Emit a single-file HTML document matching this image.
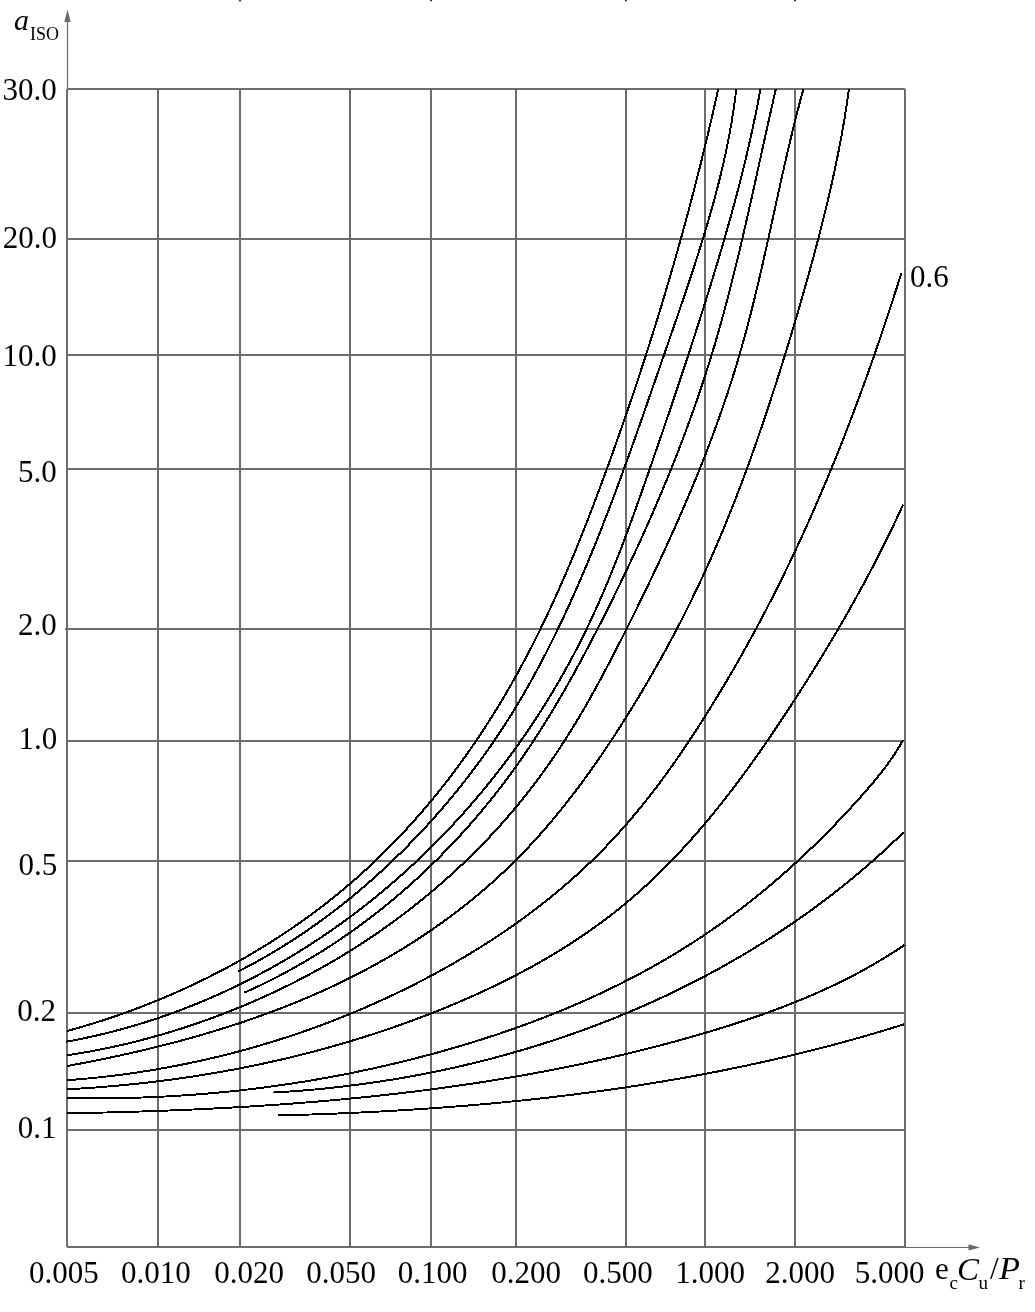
<!DOCTYPE html>
<html><head><meta charset="utf-8"><style>
html,body{margin:0;padding:0;background:#fff;width:1035px;height:1312px;overflow:hidden}
svg{display:block;will-change:transform}
text{font-family:"Liberation Serif",serif}
</style></head><body>
<svg width="1035" height="1312" viewBox="0 0 1035 1312">
<rect width="1035" height="1312" fill="#fff"/>
<path d="M67 89 V1247 M158 89 V1247 M240 89 V1247 M350 89 V1247 M431 89 V1247 M516 89 V1247 M626 89 V1247 M705 89 V1247 M795 89 V1247 M905 89 V1247 M67 89 H905 M67 239 H905 M67 355 H905 M67 469 H905 M67 629 H905 M67 741 H905 M67 861 H905 M67 1013 H905 M67 1130 H905 M67 1247 H905" stroke="#6d6d6d" stroke-width="2" fill="none"/>
<path d="M67.5 89 V20 M905 1247.5 H970" stroke="#6a6a6a" stroke-width="1.2" fill="none"/>
<path d="M64.3 22 L67.5 9.5 L70.7 22 Z" fill="#6a6a6a"/>
<path d="M968.5 1244.2 L980 1247.4 L968.5 1250.6 Z" fill="#6a6a6a"/>
<rect x="65" y="628" width="2" height="2" fill="#6d6d6d"/>
<rect x="239" y="0" width="2" height="1.3" fill="#333"/>
<rect x="430" y="0" width="2" height="1.3" fill="#333"/>
<rect x="625" y="0" width="2" height="1.3" fill="#333"/>
<rect x="794" y="0" width="2" height="1.3" fill="#333"/>
<path d="M67.38 1031.94 L70.27 1031.16 L73.15 1030.36 L76.03 1029.55 L78.91 1028.73 L81.79 1027.90 L84.67 1027.06 L87.54 1026.20 L90.41 1025.34 L93.28 1024.46 L96.15 1023.57 L99.01 1022.67 L101.87 1021.75 L104.73 1020.83 L107.59 1019.89 L110.44 1018.94 L113.30 1017.98 L116.15 1017.01 L118.99 1016.03 L121.83 1015.03 L124.67 1014.03 L127.51 1013.01 L130.35 1011.98 L133.18 1010.94 L136.00 1009.89 L138.83 1008.83 L141.65 1007.75 L144.46 1006.67 L147.28 1005.57 L150.09 1004.46 L152.89 1003.34 L155.69 1002.21 L158.49 1001.06 L161.28 999.91 L164.07 998.74 L166.86 997.57 L169.64 996.38 L172.42 995.18 L175.19 993.97 L177.96 992.74 L180.72 991.51 L183.48 990.26 L186.24 989.01 L188.99 987.74 L191.73 986.46 L194.47 985.17 L197.21 983.87 L199.93 982.56 L202.66 981.24 L205.38 979.90 L208.09 978.55 L210.80 977.20 L213.51 975.83 L216.20 974.45 L218.90 973.06 L221.58 971.66 L224.26 970.25 L226.94 968.82 L229.61 967.39 L232.27 965.94 L234.93 964.49 L237.58 963.02 L240.22 961.54 L242.86 960.05 L245.49 958.55 L248.12 957.04 L250.74 955.51 L253.35 953.98 L255.96 952.43 L258.56 950.88 L261.15 949.31 L263.74 947.74 L266.32 946.15 L268.89 944.55 L271.45 942.94 L274.01 941.32 L276.56 939.68 L279.10 938.04 L281.64 936.39 L284.17 934.72 L286.69 933.05 L289.20 931.36 L291.71 929.67 L294.20 927.96 L296.69 926.24 L299.17 924.51 L301.65 922.77 L304.11 921.02 L306.57 919.26 L309.02 917.49 L311.46 915.71 L313.89 913.91 L316.32 912.11 L318.73 910.29 L321.14 908.47 L323.54 906.63 L325.93 904.79 L328.31 902.93 L330.68 901.06 L333.05 899.18 L335.40 897.30 L337.74 895.40 L340.08 893.49 L342.41 891.57 L344.72 889.64 L347.03 887.69 L349.33 885.74 L351.62 883.78 L353.90 881.81 L356.16 879.82 L358.42 877.83 L360.67 875.83 L362.91 873.81 L365.14 871.79 L367.37 869.76 L369.58 867.71 L371.78 865.66 L373.97 863.59 L376.15 861.52 L378.33 859.44 L380.49 857.34 L382.65 855.24 L384.79 853.13 L386.93 851.01 L389.05 848.88 L391.17 846.74 L393.27 844.59 L395.37 842.43 L397.46 840.26 L399.54 838.08 L401.60 835.90 L403.66 833.70 L405.71 831.50 L407.75 829.29 L409.79 827.07 L411.81 824.84 L413.82 822.60 L415.82 820.35 L417.82 818.10 L419.80 815.83 L421.77 813.56 L423.74 811.28 L425.70 808.99 L427.64 806.69 L429.58 804.39 L431.51 802.08 L433.43 799.75 L435.34 797.43 L437.24 795.09 L439.13 792.74 L441.01 790.39 L442.88 788.03 L444.74 785.66 L446.60 783.29 L448.44 780.91 L450.28 778.52 L452.10 776.12 L453.92 773.72 L455.73 771.31 L457.53 768.89 L459.32 766.46 L461.10 764.03 L462.87 761.59 L464.63 759.14 L466.38 756.69 L468.13 754.23 L469.86 751.76 L471.59 749.29 L473.31 746.81 L475.01 744.32 L476.71 741.83 L478.40 739.33 L480.08 736.83 L481.75 734.32 L483.41 731.80 L485.07 729.28 L486.71 726.75 L488.35 724.21 L489.97 721.67 L491.59 719.12 L493.20 716.57 L494.80 714.01 L496.39 711.45 L497.97 708.88 L499.54 706.30 L501.10 703.72 L502.66 701.13 L504.20 698.54 L505.74 695.95 L507.27 693.35 L508.79 690.74 L510.30 688.13 L511.80 685.51 L513.29 682.89 L514.77 680.26 L516.25 677.63 L517.71 674.99 L519.17 672.35 L520.62 669.71 L522.06 667.06 L523.49 664.40 L524.91 661.74 L526.33 659.08 L527.73 656.41 L529.13 653.74 L530.52 651.07 L531.90 648.39 L533.27 645.70 L534.64 643.01 L536.00 640.32 L537.35 637.63 L538.69 634.93 L540.03 632.22 L541.35 629.51 L542.67 626.80 L543.99 624.09 L545.29 621.37 L546.59 618.65 L547.88 615.92 L549.17 613.19 L550.44 610.46 L551.71 607.72 L552.98 604.98 L554.24 602.24 L555.49 599.50 L556.73 596.75 L557.97 594.00 L559.20 591.24 L560.43 588.48 L561.64 585.72 L562.86 582.96 L564.06 580.19 L565.27 577.42 L566.46 574.65 L567.65 571.88 L568.83 569.10 L570.01 566.32 L571.19 563.54 L572.35 560.75 L573.51 557.96 L574.67 555.17 L575.82 552.38 L576.97 549.59 L578.11 546.79 L579.25 543.99 L580.38 541.19 L581.50 538.39 L582.63 535.59 L583.74 532.78 L584.86 529.97 L585.96 527.16 L587.07 524.35 L588.17 521.54 L589.26 518.72 L590.35 515.90 L591.44 513.09 L592.52 510.27 L593.60 507.45 L594.68 504.62 L595.75 501.80 L596.82 498.97 L597.88 496.15 L598.94 493.32 L600.00 490.49 L601.05 487.66 L602.11 484.83 L603.15 482.00 L604.20 479.17 L605.24 476.33 L606.28 473.50 L607.31 470.66 L608.35 467.83 L609.38 464.99 L610.40 462.15 L611.43 459.32 L612.45 456.48 L613.47 453.64 L614.49 450.80 L615.50 447.96 L616.51 445.12 L617.52 442.28 L618.53 439.43 L619.53 436.59 L620.53 433.74 L621.53 430.90 L622.52 428.05 L623.51 425.21 L624.50 422.36 L625.49 419.51 L626.47 416.66 L627.46 413.81 L628.43 410.96 L629.41 408.11 L630.38 405.26 L631.35 402.41 L632.32 399.55 L633.28 396.70 L634.25 393.84 L635.20 390.99 L636.16 388.13 L637.11 385.27 L638.07 382.42 L639.01 379.56 L639.96 376.70 L640.90 373.84 L641.84 370.97 L642.78 368.11 L643.71 365.25 L644.64 362.38 L645.57 359.52 L646.50 356.65 L647.42 353.79 L648.34 350.92 L649.26 348.05 L650.17 345.18 L651.09 342.31 L652.00 339.44 L652.90 336.57 L653.81 333.69 L654.71 330.82 L655.60 327.94 L656.50 325.07 L657.39 322.19 L658.28 319.32 L659.17 316.44 L660.05 313.56 L660.93 310.68 L661.81 307.80 L662.69 304.92 L663.56 302.03 L664.43 299.15 L665.30 296.27 L666.16 293.38 L667.02 290.50 L667.88 287.61 L668.73 284.72 L669.59 281.83 L670.44 278.94 L671.28 276.05 L672.13 273.16 L672.97 270.27 L673.80 267.38 L674.64 264.48 L675.47 261.59 L676.30 258.69 L677.13 255.80 L677.95 252.90 L678.77 250.00 L679.59 247.10 L680.40 244.20 L681.21 241.30 L682.02 238.40 L682.83 235.50 L683.63 232.59 L684.43 229.69 L685.23 226.78 L686.02 223.88 L686.81 220.97 L687.60 218.06 L688.38 215.15 L689.16 212.24 L689.94 209.33 L690.72 206.42 L691.49 203.51 L692.26 200.60 L693.03 197.68 L693.79 194.77 L694.55 191.85 L695.31 188.93 L696.06 186.02 L696.81 183.10 L697.56 180.18 L698.31 177.26 L699.05 174.34 L699.79 171.41 L700.52 168.49 L701.26 165.57 L701.99 162.64 L702.71 159.72 L703.43 156.79 L704.16 153.86 L704.87 150.94 L705.59 148.01 L706.30 145.08 L707.01 142.14 L707.71 139.21 L708.41 136.28 L709.11 133.35 L709.81 130.41 L710.50 127.48 L711.19 124.54 L711.87 121.60 L712.55 118.66 L713.23 115.73 L713.91 112.79 L714.58 109.84 L715.25 106.90 L715.92 103.96 L716.58 101.02 L717.24 98.07 L717.90 95.13 L718.56 92.18 L719.21 89.23 L717.25 88.80 L716.60 91.75 L715.94 94.69 L715.29 97.63 L714.63 100.58 L713.96 103.52 L713.30 106.46 L712.63 109.40 L711.95 112.34 L711.28 115.27 L710.60 118.21 L709.91 121.15 L709.23 124.08 L708.54 127.02 L707.85 129.95 L707.15 132.88 L706.45 135.81 L705.75 138.74 L705.05 141.67 L704.34 144.60 L703.63 147.53 L702.92 150.46 L702.20 153.38 L701.48 156.31 L700.75 159.23 L700.03 162.16 L699.30 165.08 L698.57 168.00 L697.83 170.92 L697.09 173.84 L696.35 176.76 L695.60 179.68 L694.86 182.60 L694.11 185.51 L693.35 188.43 L692.59 191.34 L691.83 194.26 L691.07 197.17 L690.30 200.08 L689.54 202.99 L688.76 205.90 L687.99 208.81 L687.21 211.72 L686.43 214.63 L685.64 217.53 L684.86 220.44 L684.07 223.34 L683.27 226.25 L682.48 229.15 L681.68 232.05 L680.87 234.95 L680.07 237.86 L679.26 240.76 L678.45 243.65 L677.64 246.55 L676.82 249.45 L676.00 252.34 L675.18 255.24 L674.35 258.13 L673.52 261.03 L672.69 263.92 L671.85 266.81 L671.02 269.70 L670.18 272.59 L669.33 275.48 L668.49 278.37 L667.64 281.26 L666.78 284.14 L665.93 287.03 L665.07 289.91 L664.21 292.80 L663.35 295.68 L662.48 298.56 L661.61 301.45 L660.74 304.33 L659.86 307.21 L658.99 310.08 L658.10 312.96 L657.22 315.84 L656.33 318.71 L655.44 321.59 L654.55 324.46 L653.66 327.34 L652.76 330.21 L651.86 333.08 L650.96 335.95 L650.05 338.82 L649.14 341.69 L648.23 344.56 L647.31 347.43 L646.40 350.29 L645.48 353.16 L644.55 356.03 L643.63 358.89 L642.70 361.75 L641.77 364.61 L640.84 367.48 L639.90 370.34 L638.96 373.20 L638.02 376.06 L637.07 378.91 L636.12 381.77 L635.17 384.63 L634.22 387.48 L633.26 390.34 L632.31 393.19 L631.34 396.04 L630.38 398.90 L629.41 401.75 L628.44 404.60 L627.47 407.45 L626.50 410.30 L625.52 413.15 L624.54 415.99 L623.55 418.84 L622.57 421.69 L621.58 424.53 L620.59 427.38 L619.59 430.22 L618.59 433.07 L617.60 435.91 L616.59 438.75 L615.59 441.59 L614.58 444.43 L613.57 447.27 L612.55 450.11 L611.54 452.95 L610.52 455.78 L609.50 458.62 L608.47 461.46 L607.45 464.29 L606.42 467.13 L605.38 469.96 L604.35 472.79 L603.31 475.62 L602.27 478.46 L601.22 481.29 L600.18 484.12 L599.13 486.94 L598.07 489.77 L597.02 492.60 L595.96 495.42 L594.89 498.25 L593.82 501.07 L592.75 503.89 L591.68 506.71 L590.60 509.53 L589.52 512.35 L588.43 515.16 L587.34 517.97 L586.25 520.79 L585.15 523.60 L584.04 526.41 L582.94 529.21 L581.82 532.02 L580.71 534.82 L579.59 537.62 L578.46 540.42 L577.33 543.22 L576.20 546.01 L575.05 548.80 L573.91 551.60 L572.76 554.38 L571.60 557.17 L570.44 559.95 L569.28 562.73 L568.11 565.51 L566.93 568.29 L565.75 571.06 L564.56 573.83 L563.36 576.60 L562.16 579.36 L560.96 582.13 L559.75 584.89 L558.53 587.64 L557.30 590.40 L556.07 593.15 L554.84 595.89 L553.59 598.64 L552.35 601.38 L551.09 604.12 L549.83 606.85 L548.56 609.58 L547.28 612.31 L546.00 615.03 L544.71 617.75 L543.41 620.47 L542.11 623.18 L540.80 625.89 L539.48 628.60 L538.15 631.30 L536.82 634.00 L535.48 636.69 L534.13 639.38 L532.78 642.07 L531.41 644.75 L530.04 647.43 L528.66 650.11 L527.27 652.78 L525.88 655.44 L524.48 658.10 L523.06 660.76 L521.64 663.41 L520.21 666.06 L518.78 668.70 L517.33 671.34 L515.88 673.98 L514.42 676.61 L512.94 679.23 L511.46 681.85 L509.97 684.47 L508.48 687.08 L506.97 689.68 L505.45 692.28 L503.93 694.88 L502.39 697.47 L500.85 700.05 L499.30 702.63 L497.74 705.21 L496.17 707.78 L494.59 710.34 L493.01 712.90 L491.41 715.45 L489.81 717.99 L488.19 720.54 L486.57 723.07 L484.94 725.60 L483.30 728.12 L481.65 730.64 L479.99 733.15 L478.32 735.65 L476.65 738.15 L474.96 740.64 L473.27 743.13 L471.56 745.61 L469.85 748.08 L468.13 750.55 L466.40 753.01 L464.66 755.46 L462.91 757.91 L461.15 760.35 L459.39 762.78 L457.61 765.21 L455.83 767.62 L454.03 770.04 L452.23 772.44 L450.42 774.84 L448.59 777.23 L446.76 779.61 L444.92 781.99 L443.07 784.36 L441.22 786.72 L439.35 789.07 L437.47 791.41 L435.59 793.75 L433.69 796.08 L431.79 798.40 L429.87 800.72 L427.95 803.02 L426.02 805.32 L424.08 807.61 L422.13 809.89 L420.17 812.17 L418.20 814.43 L416.22 816.69 L414.23 818.94 L412.23 821.18 L410.23 823.41 L408.21 825.63 L406.19 827.85 L404.15 830.05 L402.11 832.25 L400.06 834.44 L397.99 836.62 L395.92 838.79 L393.84 840.95 L391.75 843.10 L389.65 845.24 L387.54 847.38 L385.42 849.50 L383.29 851.62 L381.16 853.72 L379.01 855.82 L376.85 857.90 L374.69 859.98 L372.51 862.05 L370.32 864.11 L368.13 866.15 L365.93 868.19 L363.71 870.22 L361.49 872.23 L359.26 874.24 L357.01 876.24 L354.76 878.23 L352.50 880.20 L350.23 882.17 L347.95 884.13 L345.66 886.07 L343.36 888.01 L341.05 889.93 L338.73 891.85 L336.40 893.75 L334.07 895.64 L331.72 897.53 L329.37 899.40 L327.00 901.26 L324.63 903.11 L322.25 904.95 L319.86 906.78 L317.46 908.60 L315.05 910.41 L312.63 912.21 L310.21 914.00 L307.78 915.78 L305.33 917.54 L302.88 919.30 L300.43 921.04 L297.96 922.78 L295.49 924.50 L293.01 926.22 L290.52 927.92 L288.02 929.61 L285.51 931.29 L283.00 932.96 L280.48 934.62 L277.95 936.27 L275.42 937.91 L272.88 939.54 L270.33 941.15 L267.77 942.76 L265.21 944.36 L262.64 945.94 L260.06 947.51 L257.47 949.08 L254.88 950.63 L252.28 952.17 L249.68 953.70 L247.07 955.22 L244.45 956.73 L241.83 958.22 L239.20 959.71 L236.56 961.18 L233.92 962.65 L231.27 964.10 L228.61 965.54 L225.95 966.98 L223.28 968.40 L220.61 969.81 L217.93 971.20 L215.25 972.59 L212.56 973.97 L209.86 975.33 L207.16 976.69 L204.46 978.03 L201.74 979.36 L199.03 980.68 L196.31 981.99 L193.58 983.29 L190.85 984.58 L188.11 985.85 L185.37 987.12 L182.62 988.37 L179.87 989.61 L177.12 990.85 L174.36 992.07 L171.59 993.28 L168.82 994.47 L166.05 995.66 L163.27 996.83 L160.49 998.00 L157.70 999.15 L154.91 1000.29 L152.12 1001.42 L149.32 1002.54 L146.52 1003.65 L143.72 1004.74 L140.91 1005.83 L138.10 1006.90 L135.28 1007.96 L132.46 1009.01 L129.64 1010.05 L126.81 1011.08 L123.98 1012.09 L121.15 1013.10 L118.32 1014.09 L115.48 1015.07 L112.64 1016.04 L109.80 1017.00 L106.95 1017.95 L104.10 1018.88 L101.25 1019.81 L98.39 1020.72 L95.54 1021.62 L92.68 1022.51 L89.82 1023.39 L86.95 1024.25 L84.09 1025.11 L81.22 1025.95 L78.35 1026.78 L75.48 1027.60 L72.61 1028.41 L69.73 1029.21 L66.86 1029.99Z M238.81 972.28 L241.50 970.92 L244.19 969.54 L246.87 968.14 L249.54 966.73 L252.21 965.31 L254.86 963.87 L257.51 962.42 L260.15 960.96 L262.79 959.48 L265.41 957.99 L268.03 956.48 L270.64 954.96 L273.24 953.43 L275.84 951.88 L278.42 950.32 L281.00 948.75 L283.57 947.17 L286.13 945.57 L288.69 943.96 L291.24 942.33 L293.78 940.70 L296.31 939.05 L298.83 937.39 L301.35 935.71 L303.86 934.02 L306.36 932.33 L308.85 930.62 L311.33 928.89 L313.81 927.16 L316.28 925.41 L318.74 923.65 L321.19 921.88 L323.63 920.10 L326.07 918.31 L328.49 916.50 L330.91 914.69 L333.33 912.86 L335.73 911.02 L338.12 909.17 L340.51 907.31 L342.89 905.44 L345.26 903.56 L347.62 901.67 L349.97 899.76 L352.32 897.85 L354.66 895.92 L356.99 893.99 L359.31 892.04 L361.62 890.09 L363.92 888.12 L366.22 886.15 L368.51 884.16 L370.78 882.17 L373.06 880.16 L375.32 878.15 L377.57 876.12 L379.82 874.09 L382.05 872.04 L384.28 869.99 L386.50 867.93 L388.71 865.86 L390.91 863.78 L393.11 861.69 L395.29 859.59 L397.47 857.49 L399.64 855.37 L401.80 853.25 L403.95 851.11 L406.09 848.97 L408.23 846.82 L410.35 844.66 L412.47 842.50 L414.57 840.32 L416.67 838.14 L418.76 835.95 L420.84 833.75 L422.91 831.54 L424.97 829.32 L427.03 827.10 L429.07 824.86 L431.10 822.62 L433.13 820.37 L435.14 818.12 L437.15 815.85 L439.15 813.58 L441.14 811.30 L443.12 809.02 L445.09 806.72 L447.04 804.42 L449.00 802.11 L450.94 799.79 L452.87 797.47 L454.79 795.13 L456.70 792.79 L458.61 790.45 L460.50 788.09 L462.38 785.73 L464.26 783.36 L466.12 780.98 L467.98 778.60 L469.82 776.21 L471.66 773.81 L473.48 771.41 L475.30 769.00 L477.11 766.58 L478.90 764.15 L480.69 761.72 L482.47 759.28 L484.23 756.83 L485.99 754.38 L487.74 751.92 L489.47 749.45 L491.20 746.97 L492.92 744.49 L494.62 742.01 L496.32 739.51 L498.01 737.01 L499.68 734.50 L501.35 731.99 L503.01 729.47 L504.65 726.94 L506.29 724.41 L507.91 721.87 L509.53 719.33 L511.14 716.78 L512.73 714.22 L514.31 711.65 L515.89 709.08 L517.45 706.51 L519.01 703.92 L520.55 701.34 L522.08 698.74 L523.61 696.14 L525.12 693.54 L526.62 690.92 L528.12 688.31 L529.60 685.69 L531.08 683.06 L532.54 680.43 L534.00 677.79 L535.45 675.15 L536.89 672.50 L538.32 669.85 L539.74 667.19 L541.15 664.53 L542.56 661.86 L543.95 659.19 L545.34 656.52 L546.72 653.84 L548.09 651.16 L549.46 648.47 L550.81 645.78 L552.16 643.08 L553.50 640.38 L554.84 637.68 L556.16 634.97 L557.48 632.26 L558.80 629.55 L560.10 626.83 L561.40 624.11 L562.69 621.39 L563.98 618.66 L565.26 615.93 L566.53 613.20 L567.79 610.47 L569.05 607.73 L570.30 604.98 L571.55 602.24 L572.79 599.49 L574.02 596.74 L575.25 593.99 L576.47 591.23 L577.69 588.47 L578.90 585.71 L580.11 582.94 L581.31 580.17 L582.50 577.40 L583.69 574.63 L584.87 571.85 L586.05 569.08 L587.22 566.29 L588.38 563.51 L589.55 560.73 L590.70 557.94 L591.85 555.15 L593.00 552.35 L594.14 549.56 L595.28 546.76 L596.41 543.96 L597.54 541.16 L598.66 538.36 L599.78 535.55 L600.90 532.75 L602.01 529.94 L603.11 527.12 L604.21 524.31 L605.31 521.50 L606.40 518.68 L607.49 515.86 L608.58 513.04 L609.66 510.22 L610.74 507.39 L611.82 504.57 L612.89 501.74 L613.95 498.91 L615.02 496.08 L616.08 493.25 L617.14 490.42 L618.19 487.59 L619.24 484.75 L620.29 481.91 L621.34 479.08 L622.38 476.24 L623.42 473.40 L624.46 470.55 L625.49 467.71 L626.52 464.87 L627.55 462.02 L628.58 459.18 L629.60 456.33 L630.62 453.48 L631.64 450.64 L632.66 447.79 L633.68 444.94 L634.69 442.09 L635.70 439.24 L636.71 436.38 L637.72 433.53 L638.73 430.68 L639.73 427.83 L640.74 424.97 L641.74 422.12 L642.74 419.26 L643.74 416.41 L644.74 413.55 L645.74 410.70 L646.73 407.84 L647.73 404.98 L648.72 402.13 L649.71 399.27 L650.71 396.41 L651.70 393.56 L652.69 390.70 L653.68 387.84 L654.67 384.99 L655.66 382.13 L656.65 379.28 L657.64 376.42 L658.63 373.56 L659.61 370.71 L660.60 367.85 L661.59 365.00 L662.58 362.14 L663.57 359.29 L664.56 356.44 L665.55 353.58 L666.54 350.73 L667.53 347.88 L668.52 345.03 L669.51 342.18 L670.50 339.33 L671.49 336.47 L672.48 333.62 L673.47 330.77 L674.45 327.92 L675.44 325.07 L676.42 322.22 L677.41 319.37 L678.39 316.52 L679.37 313.67 L680.35 310.81 L681.33 307.96 L682.30 305.11 L683.27 302.26 L684.24 299.40 L685.21 296.55 L686.18 293.69 L687.14 290.84 L688.10 287.98 L689.06 285.12 L690.01 282.27 L690.96 279.41 L691.90 276.55 L692.85 273.69 L693.79 270.83 L694.72 267.96 L695.65 265.10 L696.58 262.23 L697.50 259.37 L698.41 256.50 L699.33 253.63 L700.23 250.76 L701.14 247.89 L702.03 245.01 L702.93 242.14 L703.81 239.26 L704.69 236.38 L705.57 233.50 L706.44 230.62 L707.30 227.74 L708.15 224.85 L709.00 221.97 L709.85 219.08 L710.68 216.18 L711.51 213.29 L712.33 210.39 L713.15 207.50 L713.95 204.60 L714.75 201.69 L715.54 198.79 L716.32 195.88 L717.09 192.97 L717.86 190.05 L718.61 187.14 L719.36 184.22 L720.10 181.30 L720.82 178.37 L721.54 175.45 L722.25 172.52 L722.95 169.58 L723.63 166.65 L724.31 163.71 L724.98 160.77 L725.63 157.82 L726.28 154.87 L726.91 151.92 L727.53 148.96 L728.14 146.00 L728.74 143.04 L729.33 140.07 L729.90 137.10 L730.46 134.13 L731.01 131.15 L731.55 128.17 L732.07 125.18 L732.58 122.20 L733.08 119.20 L733.56 116.20 L734.03 113.20 L734.48 110.20 L734.93 107.19 L735.35 104.17 L735.76 101.16 L736.16 98.13 L736.54 95.11 L736.91 92.07 L737.26 89.04 L735.32 88.82 L734.97 91.84 L734.60 94.86 L734.21 97.88 L733.81 100.89 L733.40 103.90 L732.97 106.91 L732.53 109.91 L732.07 112.90 L731.60 115.89 L731.12 118.88 L730.62 121.87 L730.11 124.85 L729.59 127.82 L729.05 130.79 L728.50 133.76 L727.94 136.73 L727.37 139.69 L726.78 142.65 L726.18 145.60 L725.57 148.55 L724.95 151.50 L724.32 154.45 L723.67 157.39 L723.02 160.33 L722.35 163.26 L721.68 166.19 L720.99 169.12 L720.29 172.05 L719.58 174.97 L718.87 177.89 L718.14 180.81 L717.40 183.72 L716.66 186.64 L715.90 189.54 L715.14 192.45 L714.37 195.36 L713.59 198.26 L712.80 201.16 L712.00 204.06 L711.19 206.95 L710.38 209.84 L709.56 212.73 L708.73 215.62 L707.90 218.51 L707.05 221.39 L706.20 224.28 L705.35 227.16 L704.49 230.04 L703.62 232.91 L702.74 235.79 L701.86 238.66 L700.98 241.54 L700.09 244.41 L699.19 247.28 L698.29 250.15 L697.38 253.01 L696.47 255.88 L695.55 258.74 L694.63 261.61 L693.71 264.47 L692.78 267.33 L691.84 270.19 L690.90 273.05 L689.96 275.91 L689.02 278.76 L688.07 281.62 L687.12 284.48 L686.16 287.33 L685.20 290.18 L684.24 293.04 L683.27 295.89 L682.31 298.74 L681.34 301.60 L680.36 304.45 L679.39 307.30 L678.41 310.15 L677.43 313.00 L676.45 315.85 L675.47 318.70 L674.49 321.55 L673.50 324.40 L672.52 327.25 L671.53 330.10 L670.54 332.95 L669.55 335.80 L668.56 338.65 L667.57 341.50 L666.58 344.36 L665.59 347.21 L664.60 350.06 L663.61 352.91 L662.62 355.77 L661.63 358.62 L660.64 361.47 L659.66 364.33 L658.67 367.18 L657.68 370.04 L656.69 372.89 L655.70 375.75 L654.71 378.61 L653.72 381.46 L652.73 384.32 L651.74 387.17 L650.75 390.03 L649.76 392.89 L648.77 395.74 L647.78 398.60 L646.78 401.45 L645.79 404.31 L644.80 407.17 L643.80 410.02 L642.80 412.88 L641.80 415.73 L640.81 418.58 L639.80 421.44 L638.80 424.29 L637.80 427.14 L636.79 430.00 L635.79 432.85 L634.78 435.70 L633.77 438.55 L632.76 441.40 L631.74 444.25 L630.73 447.10 L629.71 449.95 L628.69 452.79 L627.67 455.64 L626.65 458.48 L625.62 461.33 L624.59 464.17 L623.56 467.01 L622.52 469.85 L621.49 472.69 L620.45 475.53 L619.41 478.37 L618.36 481.20 L617.31 484.04 L616.26 486.87 L615.21 489.70 L614.15 492.53 L613.09 495.36 L612.03 498.19 L610.96 501.01 L609.89 503.84 L608.82 506.66 L607.74 509.48 L606.66 512.30 L605.57 515.12 L604.48 517.93 L603.39 520.75 L602.29 523.56 L601.19 526.37 L600.09 529.18 L598.98 531.99 L597.86 534.79 L596.75 537.59 L595.62 540.39 L594.50 543.19 L593.36 545.99 L592.23 548.78 L591.09 551.57 L589.94 554.36 L588.79 557.15 L587.64 559.93 L586.48 562.71 L585.31 565.49 L584.14 568.27 L582.96 571.04 L581.78 573.81 L580.59 576.58 L579.40 579.35 L578.20 582.11 L577.00 584.88 L575.79 587.63 L574.58 590.39 L573.36 593.14 L572.13 595.89 L570.90 598.64 L569.66 601.38 L568.41 604.12 L567.16 606.86 L565.90 609.59 L564.64 612.33 L563.37 615.05 L562.09 617.78 L560.81 620.50 L559.52 623.22 L558.22 625.93 L556.92 628.65 L555.61 631.35 L554.29 634.06 L552.97 636.76 L551.63 639.46 L550.29 642.15 L548.95 644.84 L547.59 647.53 L546.23 650.21 L544.86 652.88 L543.48 655.56 L542.10 658.23 L540.70 660.89 L539.30 663.55 L537.89 666.21 L536.47 668.86 L535.05 671.50 L533.61 674.14 L532.16 676.78 L530.71 679.41 L529.25 682.03 L527.77 684.65 L526.29 687.27 L524.80 689.88 L523.30 692.48 L521.79 695.08 L520.27 697.67 L518.74 700.26 L517.20 702.84 L515.65 705.42 L514.09 707.99 L512.52 710.55 L510.94 713.11 L509.35 715.66 L507.75 718.20 L506.14 720.74 L504.51 723.27 L502.88 725.80 L501.24 728.31 L499.59 730.83 L497.93 733.33 L496.25 735.83 L494.57 738.33 L492.88 740.81 L491.18 743.29 L489.46 745.77 L487.74 748.23 L486.01 750.69 L484.27 753.15 L482.51 755.59 L480.75 758.03 L478.98 760.47 L477.20 762.89 L475.40 765.31 L473.60 767.72 L471.79 770.13 L469.97 772.53 L468.14 774.92 L466.30 777.30 L464.45 779.68 L462.59 782.05 L460.72 784.41 L458.84 786.77 L456.95 789.11 L455.06 791.45 L453.15 793.79 L451.23 796.11 L449.31 798.43 L447.37 800.74 L445.42 803.04 L443.47 805.34 L441.51 807.63 L439.53 809.91 L437.55 812.18 L435.56 814.45 L433.56 816.70 L431.55 818.95 L429.53 821.20 L427.50 823.43 L425.46 825.66 L423.41 827.87 L421.36 830.08 L419.29 832.29 L417.22 834.48 L415.13 836.67 L413.04 838.84 L410.94 841.01 L408.83 843.17 L406.71 845.33 L404.58 847.47 L402.45 849.61 L400.30 851.73 L398.15 853.85 L395.99 855.96 L393.82 858.06 L391.64 860.15 L389.45 862.24 L387.25 864.31 L385.05 866.37 L382.84 868.43 L380.61 870.48 L378.38 872.51 L376.15 874.54 L373.90 876.56 L371.64 878.57 L369.38 880.57 L367.11 882.56 L364.83 884.54 L362.54 886.51 L360.24 888.47 L357.94 890.42 L355.62 892.36 L353.30 894.29 L350.97 896.21 L348.64 898.11 L346.29 900.01 L343.93 901.90 L341.57 903.78 L339.20 905.64 L336.82 907.50 L334.44 909.34 L332.04 911.17 L329.64 912.99 L327.23 914.81 L324.81 916.60 L322.38 918.39 L319.94 920.17 L317.50 921.93 L315.05 923.69 L312.59 925.43 L310.12 927.16 L307.65 928.87 L305.16 930.58 L302.67 932.27 L300.17 933.96 L297.67 935.62 L295.15 937.28 L292.63 938.92 L290.10 940.56 L287.56 942.18 L285.01 943.78 L282.46 945.37 L279.90 946.96 L277.33 948.52 L274.75 950.08 L272.17 951.62 L269.58 953.15 L266.98 954.66 L264.37 956.16 L261.75 957.65 L259.13 959.13 L256.50 960.59 L253.86 962.03 L251.21 963.47 L248.56 964.88 L245.90 966.29 L243.23 967.68 L240.55 969.06 L237.87 970.42Z M66.52 1042.65 L69.55 1042.09 L72.58 1041.53 L75.60 1040.95 L78.61 1040.35 L81.62 1039.74 L84.63 1039.12 L87.63 1038.49 L90.62 1037.84 L93.62 1037.17 L96.60 1036.49 L99.58 1035.80 L102.56 1035.10 L105.53 1034.38 L108.50 1033.64 L111.46 1032.90 L114.42 1032.14 L117.37 1031.36 L120.32 1030.58 L123.26 1029.78 L126.19 1028.96 L129.13 1028.13 L132.05 1027.29 L134.97 1026.44 L137.89 1025.57 L140.80 1024.69 L143.70 1023.80 L146.60 1022.89 L149.50 1021.97 L152.39 1021.04 L155.27 1020.09 L158.15 1019.13 L161.02 1018.16 L163.89 1017.17 L166.75 1016.18 L169.61 1015.17 L172.46 1014.14 L175.30 1013.11 L178.14 1012.06 L180.98 1011.00 L183.81 1009.92 L186.63 1008.84 L189.45 1007.74 L192.26 1006.63 L195.06 1005.50 L197.86 1004.37 L200.66 1003.22 L203.44 1002.06 L206.23 1000.88 L209.00 999.70 L211.77 998.50 L214.54 997.29 L217.30 996.07 L220.05 994.83 L222.80 993.59 L225.54 992.33 L228.27 991.06 L231.00 989.78 L233.73 988.48 L236.44 987.18 L239.15 985.86 L241.86 984.53 L244.55 983.19 L247.25 981.84 L249.93 980.47 L252.61 979.10 L255.28 977.71 L257.95 976.31 L260.61 974.90 L263.27 973.48 L265.91 972.05 L268.55 970.60 L271.19 969.15 L273.82 967.68 L276.44 966.20 L279.05 964.71 L281.66 963.21 L284.27 961.70 L286.86 960.18 L289.45 958.65 L292.03 957.10 L294.61 955.55 L297.18 953.98 L299.74 952.40 L302.29 950.82 L304.84 949.22 L307.38 947.61 L309.92 945.99 L312.45 944.36 L314.97 942.72 L317.48 941.07 L319.99 939.40 L322.49 937.73 L324.99 936.05 L327.47 934.36 L329.95 932.65 L332.42 930.94 L334.89 929.21 L337.35 927.48 L339.80 925.74 L342.24 923.98 L344.68 922.22 L347.11 920.44 L349.53 918.66 L351.95 916.86 L354.36 915.06 L356.76 913.24 L359.15 911.42 L361.54 909.58 L363.91 907.74 L366.28 905.89 L368.65 904.02 L371.00 902.15 L373.35 900.27 L375.70 898.37 L378.03 896.47 L380.36 894.56 L382.67 892.64 L384.98 890.71 L387.29 888.77 L389.58 886.82 L391.87 884.87 L394.15 882.90 L396.43 880.92 L398.69 878.94 L400.95 876.94 L403.20 874.94 L405.44 872.93 L407.67 870.90 L409.90 868.87 L412.12 866.83 L414.33 864.79 L416.53 862.73 L418.72 860.66 L420.91 858.59 L423.09 856.51 L425.26 854.41 L427.42 852.31 L429.57 850.20 L431.72 848.09 L433.85 845.96 L435.98 843.83 L438.10 841.68 L440.22 839.53 L442.32 837.37 L444.42 835.20 L446.51 833.03 L448.59 830.84 L450.66 828.65 L452.72 826.45 L454.77 824.24 L456.82 822.03 L458.86 819.80 L460.89 817.57 L462.91 815.33 L464.92 813.08 L466.92 810.82 L468.92 808.56 L470.91 806.29 L472.88 804.01 L474.85 801.72 L476.81 799.43 L478.76 797.12 L480.71 794.82 L482.64 792.50 L484.57 790.17 L486.48 787.84 L488.39 785.50 L490.29 783.15 L492.18 780.80 L494.06 778.44 L495.93 776.07 L497.80 773.69 L499.65 771.31 L501.50 768.92 L503.33 766.52 L505.16 764.12 L506.98 761.71 L508.79 759.29 L510.59 756.87 L512.38 754.44 L514.16 752.00 L515.93 749.55 L517.69 747.10 L519.45 744.64 L521.19 742.18 L522.93 739.70 L524.65 737.23 L526.37 734.74 L528.08 732.25 L529.78 729.75 L531.46 727.25 L533.14 724.74 L534.81 722.22 L536.47 719.70 L538.12 717.17 L539.76 714.63 L541.39 712.09 L543.02 709.54 L544.63 706.99 L546.23 704.43 L547.82 701.87 L549.40 699.29 L550.98 696.72 L552.54 694.13 L554.09 691.54 L555.64 688.95 L557.17 686.35 L558.70 683.74 L560.21 681.13 L561.71 678.51 L563.21 675.89 L564.69 673.26 L566.17 670.63 L567.63 667.99 L569.09 665.34 L570.53 662.69 L571.96 660.04 L573.39 657.37 L574.80 654.71 L576.21 652.04 L577.60 649.36 L578.98 646.68 L580.36 643.99 L581.72 641.30 L583.07 638.60 L584.41 635.90 L585.75 633.20 L587.07 630.48 L588.38 627.77 L589.68 625.05 L590.97 622.32 L592.25 619.59 L593.52 616.86 L594.78 614.12 L596.04 611.37 L597.28 608.63 L598.51 605.88 L599.74 603.12 L600.95 600.36 L602.16 597.60 L603.36 594.83 L604.55 592.06 L605.73 589.29 L606.90 586.51 L608.07 583.73 L609.23 580.94 L610.38 578.15 L611.52 575.36 L612.66 572.57 L613.79 569.77 L614.91 566.97 L616.03 564.17 L617.14 561.36 L618.24 558.55 L619.34 555.74 L620.43 552.93 L621.52 550.11 L622.60 547.30 L623.67 544.47 L624.74 541.65 L625.80 538.83 L626.86 536.00 L627.92 533.17 L628.97 530.34 L630.01 527.51 L631.05 524.67 L632.09 521.84 L633.12 519.00 L634.15 516.16 L635.18 513.32 L636.20 510.48 L637.22 507.64 L638.23 504.79 L639.25 501.95 L640.26 499.10 L641.26 496.26 L642.27 493.41 L643.27 490.56 L644.27 487.71 L645.27 484.86 L646.26 482.01 L647.26 479.16 L648.25 476.31 L649.24 473.46 L650.24 470.61 L651.23 467.76 L652.21 464.91 L653.20 462.06 L654.19 459.21 L655.18 456.36 L656.16 453.51 L657.15 450.66 L658.13 447.81 L659.11 444.96 L660.09 442.10 L661.07 439.25 L662.05 436.40 L663.03 433.55 L664.00 430.70 L664.98 427.84 L665.95 424.99 L666.93 422.14 L667.90 419.29 L668.87 416.43 L669.84 413.58 L670.80 410.72 L671.77 407.87 L672.73 405.02 L673.70 402.16 L674.66 399.31 L675.62 396.45 L676.58 393.60 L677.54 390.74 L678.49 387.89 L679.45 385.03 L680.40 382.17 L681.35 379.31 L682.30 376.46 L683.25 373.60 L684.20 370.74 L685.15 367.88 L686.09 365.02 L687.03 362.16 L687.97 359.31 L688.91 356.44 L689.85 353.58 L690.78 350.72 L691.72 347.86 L692.65 345.00 L693.58 342.14 L694.51 339.27 L695.43 336.41 L696.36 333.55 L697.28 330.68 L698.20 327.82 L699.12 324.95 L700.03 322.09 L700.95 319.22 L701.86 316.35 L702.77 313.49 L703.68 310.62 L704.59 307.75 L705.49 304.88 L706.39 302.01 L707.29 299.14 L708.19 296.27 L709.09 293.40 L709.98 290.52 L710.87 287.65 L711.76 284.78 L712.64 281.90 L713.52 279.03 L714.40 276.15 L715.28 273.27 L716.16 270.39 L717.03 267.51 L717.90 264.63 L718.76 261.75 L719.62 258.87 L720.48 255.99 L721.33 253.10 L722.19 250.22 L723.03 247.33 L723.88 244.45 L724.72 241.56 L725.56 238.67 L726.39 235.78 L727.22 232.88 L728.04 229.99 L728.86 227.10 L729.68 224.20 L730.49 221.30 L731.30 218.41 L732.11 215.51 L732.90 212.60 L733.70 209.70 L734.49 206.80 L735.28 203.89 L736.06 200.98 L736.83 198.08 L737.60 195.17 L738.37 192.25 L739.13 189.34 L739.89 186.43 L740.64 183.51 L741.38 180.59 L742.12 177.67 L742.86 174.75 L743.59 171.83 L744.31 168.90 L745.03 165.97 L745.74 163.05 L746.45 160.11 L747.15 157.18 L747.84 154.25 L748.53 151.31 L749.21 148.37 L749.89 145.43 L750.56 142.49 L751.22 139.55 L751.88 136.60 L752.53 133.65 L753.17 130.70 L753.81 127.75 L754.44 124.79 L755.06 121.84 L755.68 118.88 L756.28 115.92 L756.89 112.95 L757.48 109.99 L758.07 107.02 L758.65 104.05 L759.22 101.08 L759.79 98.10 L760.35 95.12 L760.90 92.14 L761.44 89.16 L759.49 88.81 L758.94 91.78 L758.39 94.76 L757.83 97.73 L757.27 100.70 L756.69 103.67 L756.11 106.63 L755.52 109.60 L754.93 112.56 L754.33 115.52 L753.72 118.47 L753.10 121.43 L752.48 124.38 L751.85 127.33 L751.21 130.28 L750.57 133.22 L749.92 136.17 L749.26 139.11 L748.60 142.05 L747.93 144.99 L747.25 147.92 L746.57 150.85 L745.88 153.79 L745.19 156.72 L744.49 159.65 L743.78 162.57 L743.07 165.50 L742.35 168.42 L741.63 171.34 L740.90 174.26 L740.17 177.18 L739.43 180.09 L738.68 183.01 L737.93 185.92 L737.18 188.83 L736.41 191.74 L735.65 194.65 L734.88 197.56 L734.10 200.46 L733.32 203.36 L732.54 206.27 L731.75 209.17 L730.95 212.07 L730.15 214.97 L729.35 217.86 L728.54 220.76 L727.73 223.65 L726.91 226.54 L726.09 229.44 L725.27 232.33 L724.44 235.22 L723.60 238.10 L722.77 240.99 L721.93 243.88 L721.08 246.76 L720.24 249.64 L719.38 252.53 L718.53 255.41 L717.67 258.29 L716.81 261.17 L715.95 264.05 L715.08 266.93 L714.21 269.80 L713.33 272.68 L712.46 275.55 L711.58 278.43 L710.69 281.30 L709.81 284.18 L708.92 287.05 L708.03 289.92 L707.14 292.79 L706.24 295.66 L705.35 298.53 L704.45 301.40 L703.54 304.27 L702.64 307.14 L701.73 310.00 L700.83 312.87 L699.92 315.74 L699.00 318.60 L698.09 321.47 L697.17 324.33 L696.25 327.19 L695.33 330.06 L694.41 332.92 L693.49 335.78 L692.56 338.65 L691.63 341.51 L690.70 344.37 L689.77 347.23 L688.84 350.09 L687.91 352.95 L686.97 355.81 L686.03 358.67 L685.09 361.53 L684.15 364.38 L683.20 367.24 L682.26 370.10 L681.31 372.96 L680.36 375.81 L679.41 378.67 L678.46 381.52 L677.51 384.38 L676.55 387.24 L675.60 390.09 L674.64 392.95 L673.68 395.80 L672.72 398.65 L671.76 401.51 L670.80 404.36 L669.83 407.21 L668.86 410.07 L667.90 412.92 L666.93 415.77 L665.96 418.63 L664.99 421.48 L664.01 424.33 L663.04 427.18 L662.07 430.03 L661.09 432.88 L660.11 435.74 L659.13 438.59 L658.15 441.44 L657.17 444.29 L656.19 447.14 L655.21 449.99 L654.22 452.84 L653.24 455.69 L652.25 458.54 L651.27 461.39 L650.28 464.24 L649.29 467.09 L648.30 469.94 L647.31 472.79 L646.32 475.64 L645.32 478.49 L644.33 481.34 L643.33 484.19 L642.33 487.03 L641.33 489.88 L640.33 492.73 L639.33 495.57 L638.32 498.42 L637.31 501.26 L636.30 504.10 L635.28 506.95 L634.27 509.79 L633.24 512.63 L632.22 515.46 L631.19 518.30 L630.16 521.13 L629.12 523.97 L628.08 526.80 L627.04 529.63 L625.99 532.45 L624.94 535.28 L623.88 538.10 L622.81 540.92 L621.74 543.74 L620.67 546.56 L619.59 549.37 L618.51 552.19 L617.42 555.00 L616.32 557.80 L615.22 560.61 L614.11 563.41 L612.99 566.21 L611.87 569.00 L610.74 571.79 L609.61 574.58 L608.47 577.37 L607.32 580.15 L606.16 582.93 L604.99 585.70 L603.82 588.48 L602.64 591.25 L601.45 594.01 L600.26 596.77 L599.05 599.53 L597.84 602.28 L596.61 605.03 L595.38 607.77 L594.14 610.52 L592.89 613.25 L591.63 615.98 L590.37 618.71 L589.09 621.43 L587.80 624.15 L586.50 626.87 L585.19 629.57 L583.87 632.28 L582.54 634.98 L581.20 637.67 L579.85 640.36 L578.49 643.04 L577.12 645.72 L575.74 648.40 L574.35 651.07 L572.95 653.73 L571.54 656.39 L570.12 659.04 L568.69 661.69 L567.25 664.33 L565.80 666.97 L564.34 669.60 L562.86 672.23 L561.38 674.85 L559.89 677.47 L558.39 680.08 L556.88 682.68 L555.36 685.28 L553.83 687.88 L552.29 690.46 L550.74 693.05 L549.18 695.62 L547.61 698.19 L546.03 700.76 L544.44 703.32 L542.84 705.87 L541.23 708.42 L539.62 710.96 L537.99 713.49 L536.35 716.02 L534.71 718.54 L533.05 721.06 L531.38 723.57 L529.71 726.07 L528.02 728.57 L526.33 731.06 L524.63 733.54 L522.92 736.02 L521.19 738.49 L519.46 740.96 L517.72 743.42 L515.97 745.87 L514.21 748.31 L512.45 750.75 L510.67 753.18 L508.88 755.61 L507.09 758.03 L505.28 760.44 L503.47 762.84 L501.65 765.24 L499.82 767.63 L497.97 770.01 L496.12 772.39 L494.27 774.76 L492.40 777.12 L490.52 779.47 L488.64 781.82 L486.74 784.16 L484.84 786.50 L482.93 788.82 L481.01 791.14 L479.08 793.45 L477.14 795.75 L475.19 798.05 L473.24 800.34 L471.27 802.62 L469.30 804.89 L467.32 807.16 L465.33 809.41 L463.33 811.66 L461.33 813.91 L459.31 816.14 L457.29 818.37 L455.26 820.59 L453.21 822.80 L451.17 825.00 L449.11 827.19 L447.04 829.38 L444.97 831.56 L442.89 833.73 L440.80 835.89 L438.70 838.04 L436.59 840.19 L434.47 842.33 L432.35 844.46 L430.22 846.58 L428.08 848.69 L425.93 850.79 L423.78 852.89 L421.61 854.97 L419.44 857.05 L417.26 859.12 L415.07 861.18 L412.88 863.23 L410.67 865.27 L408.46 867.31 L406.24 869.33 L404.01 871.35 L401.78 873.35 L399.54 875.35 L397.29 877.34 L395.03 879.32 L392.76 881.29 L390.49 883.25 L388.21 885.21 L385.92 887.15 L383.62 889.08 L381.32 891.01 L379.00 892.92 L376.68 894.83 L374.36 896.73 L372.02 898.61 L369.68 900.49 L367.33 902.36 L364.97 904.22 L362.61 906.07 L360.24 907.90 L357.86 909.73 L355.47 911.55 L353.08 913.36 L350.68 915.16 L348.27 916.95 L345.86 918.73 L343.43 920.50 L341.00 922.26 L338.57 924.01 L336.12 925.75 L333.67 927.48 L331.21 929.20 L328.75 930.91 L326.28 932.61 L323.80 934.30 L321.31 935.98 L318.82 937.65 L316.32 939.30 L313.81 940.95 L311.30 942.59 L308.78 944.21 L306.25 945.83 L303.72 947.43 L301.18 949.03 L298.63 950.61 L296.08 952.19 L293.52 953.75 L290.95 955.30 L288.37 956.84 L285.79 958.37 L283.21 959.89 L280.61 961.39 L278.01 962.89 L275.40 964.38 L272.79 965.85 L270.17 967.31 L267.54 968.77 L264.91 970.21 L262.27 971.64 L259.63 973.05 L256.97 974.46 L254.32 975.86 L251.65 977.24 L248.98 978.61 L246.30 979.97 L243.62 981.32 L240.93 982.66 L238.24 983.99 L235.53 985.30 L232.83 986.60 L230.11 987.89 L227.39 989.17 L224.67 990.44 L221.93 991.70 L219.20 992.94 L216.45 994.17 L213.70 995.39 L210.95 996.60 L208.19 997.79 L205.42 998.98 L202.64 1000.15 L199.87 1001.31 L197.08 1002.45 L194.29 1003.59 L191.49 1004.71 L188.69 1005.82 L185.88 1006.91 L183.07 1008.00 L180.25 1009.07 L177.43 1010.13 L174.60 1011.18 L171.76 1012.21 L168.92 1013.23 L166.07 1014.24 L163.22 1015.24 L160.36 1016.22 L157.50 1017.19 L154.63 1018.15 L151.75 1019.09 L148.87 1020.03 L145.99 1020.94 L143.10 1021.85 L140.20 1022.74 L137.30 1023.62 L134.40 1024.49 L131.49 1025.34 L128.57 1026.18 L125.65 1027.01 L122.72 1027.82 L119.79 1028.62 L116.85 1029.41 L113.91 1030.18 L110.96 1030.94 L108.01 1031.69 L105.05 1032.42 L102.09 1033.14 L99.12 1033.84 L96.15 1034.53 L93.18 1035.21 L90.19 1035.88 L87.21 1036.53 L84.22 1037.16 L81.22 1037.79 L78.22 1038.39 L75.21 1038.99 L72.20 1039.57 L69.19 1040.14 L66.17 1040.69Z M244.94 993.52 L247.71 992.28 L250.47 991.03 L253.22 989.77 L255.97 988.49 L258.71 987.20 L261.44 985.90 L264.17 984.58 L266.88 983.25 L269.59 981.91 L272.30 980.55 L274.99 979.18 L277.68 977.79 L280.37 976.39 L283.04 974.98 L285.71 973.56 L288.37 972.12 L291.02 970.67 L293.67 969.21 L296.30 967.74 L298.93 966.25 L301.56 964.75 L304.17 963.24 L306.78 961.71 L309.38 960.17 L311.98 958.62 L314.56 957.06 L317.14 955.49 L319.71 953.90 L322.27 952.30 L324.83 950.69 L327.37 949.06 L329.91 947.43 L332.44 945.78 L334.97 944.12 L337.48 942.45 L339.99 940.77 L342.49 939.07 L344.98 937.37 L347.47 935.65 L349.94 933.92 L352.41 932.18 L354.87 930.43 L357.32 928.66 L359.76 926.89 L362.20 925.10 L364.63 923.30 L367.05 921.50 L369.46 919.68 L371.86 917.85 L374.25 916.00 L376.64 914.15 L379.02 912.29 L381.39 910.41 L383.75 908.53 L386.10 906.63 L388.44 904.73 L390.78 902.81 L393.11 900.89 L395.42 898.95 L397.73 897.00 L400.03 895.04 L402.33 893.07 L404.61 891.10 L406.89 889.11 L409.15 887.11 L411.41 885.10 L413.66 883.08 L415.90 881.05 L418.13 879.01 L420.35 876.97 L422.56 874.91 L424.77 872.84 L426.96 870.76 L429.15 868.68 L431.33 866.58 L433.50 864.48 L435.65 862.36 L437.80 860.24 L439.95 858.10 L442.08 855.96 L444.20 853.81 L446.31 851.65 L448.42 849.48 L450.51 847.30 L452.60 845.11 L454.67 842.92 L456.74 840.71 L458.80 838.50 L460.85 836.28 L462.88 834.04 L464.91 831.80 L466.93 829.56 L468.94 827.30 L470.94 825.04 L472.93 822.76 L474.91 820.48 L476.89 818.19 L478.85 815.89 L480.80 813.59 L482.74 811.27 L484.67 808.95 L486.60 806.62 L488.51 804.28 L490.41 801.94 L492.30 799.59 L494.19 797.23 L496.06 794.86 L497.92 792.48 L499.78 790.10 L501.62 787.71 L503.45 785.31 L505.28 782.90 L507.09 780.49 L508.89 778.07 L510.69 775.64 L512.47 773.21 L514.24 770.77 L516.00 768.32 L517.75 765.87 L519.49 763.41 L521.23 760.94 L522.95 758.46 L524.66 755.98 L526.36 753.49 L528.05 751.00 L529.73 748.50 L531.41 745.99 L533.07 743.48 L534.73 740.96 L536.37 738.44 L538.01 735.91 L539.64 733.37 L541.26 730.83 L542.87 728.28 L544.47 725.73 L546.07 723.18 L547.66 720.61 L549.23 718.05 L550.80 715.47 L552.37 712.90 L553.92 710.31 L555.47 707.73 L557.01 705.13 L558.54 702.54 L560.07 699.94 L561.59 697.33 L563.10 694.72 L564.61 692.11 L566.11 689.49 L567.60 686.87 L569.08 684.24 L570.56 681.62 L572.04 678.98 L573.51 676.35 L574.97 673.71 L576.42 671.06 L577.87 668.41 L579.32 665.76 L580.76 663.11 L582.19 660.45 L583.62 657.79 L585.04 655.13 L586.46 652.47 L587.87 649.80 L589.28 647.13 L590.69 644.45 L592.09 641.78 L593.48 639.10 L594.87 636.42 L596.26 633.74 L597.65 631.05 L599.02 628.37 L600.40 625.68 L601.77 622.99 L603.14 620.30 L604.51 617.60 L605.87 614.91 L607.22 612.21 L608.58 609.51 L609.92 606.81 L611.27 604.10 L612.61 601.40 L613.95 598.69 L615.28 595.98 L616.61 593.27 L617.94 590.56 L619.26 587.84 L620.58 585.12 L621.89 582.41 L623.20 579.69 L624.51 576.96 L625.81 574.24 L627.11 571.52 L628.41 568.79 L629.70 566.06 L630.98 563.33 L632.26 560.60 L633.54 557.86 L634.82 555.13 L636.09 552.39 L637.35 549.65 L638.62 546.91 L639.87 544.17 L641.13 541.42 L642.37 538.68 L643.62 535.93 L644.86 533.18 L646.09 530.43 L647.32 527.67 L648.55 524.92 L649.77 522.16 L650.99 519.40 L652.20 516.64 L653.41 513.88 L654.61 511.11 L655.81 508.35 L657.00 505.58 L658.19 502.81 L659.38 500.03 L660.56 497.26 L661.73 494.48 L662.90 491.70 L664.06 488.92 L665.22 486.14 L666.37 483.36 L667.52 480.57 L668.67 477.78 L669.80 474.99 L670.94 472.20 L672.06 469.41 L673.19 466.61 L674.30 463.81 L675.41 461.01 L676.52 458.21 L677.62 455.41 L678.72 452.60 L679.81 449.79 L680.89 446.98 L681.97 444.17 L683.04 441.36 L684.11 438.54 L685.17 435.72 L686.22 432.90 L687.27 430.08 L688.32 427.25 L689.35 424.43 L690.38 421.60 L691.41 418.77 L692.43 415.93 L693.44 413.10 L694.45 410.26 L695.45 407.42 L696.45 404.58 L697.44 401.73 L698.42 398.89 L699.40 396.04 L700.37 393.19 L701.33 390.34 L702.29 387.48 L703.24 384.62 L704.18 381.76 L705.12 378.90 L706.05 376.04 L706.98 373.17 L707.90 370.30 L708.81 367.43 L709.71 364.56 L710.61 361.68 L711.50 358.80 L712.39 355.92 L713.27 353.04 L714.14 350.16 L715.00 347.27 L715.86 344.38 L716.71 341.49 L717.56 338.60 L718.40 335.70 L719.23 332.80 L720.06 329.90 L720.88 327.00 L721.69 324.10 L722.50 321.20 L723.31 318.29 L724.10 315.38 L724.90 312.47 L725.68 309.56 L726.47 306.65 L727.24 303.73 L728.01 300.81 L728.78 297.90 L729.54 294.98 L730.30 292.06 L731.05 289.13 L731.80 286.21 L732.54 283.28 L733.28 280.36 L734.02 277.43 L734.75 274.50 L735.48 271.57 L736.20 268.64 L736.92 265.71 L737.63 262.78 L738.34 259.84 L739.05 256.91 L739.76 253.97 L740.46 251.03 L741.15 248.10 L741.85 245.16 L742.54 242.22 L743.23 239.28 L743.92 236.34 L744.60 233.40 L745.28 230.46 L745.96 227.51 L746.63 224.57 L747.31 221.63 L747.98 218.68 L748.65 215.74 L749.31 212.80 L749.98 209.85 L750.64 206.91 L751.30 203.96 L751.96 201.02 L752.62 198.07 L753.28 195.12 L753.93 192.18 L754.59 189.23 L755.24 186.29 L755.89 183.34 L756.54 180.40 L757.19 177.45 L757.84 174.51 L758.49 171.56 L759.14 168.62 L759.79 165.67 L760.43 162.73 L761.08 159.78 L761.73 156.84 L762.37 153.90 L763.02 150.96 L763.67 148.01 L764.32 145.07 L764.96 142.13 L765.61 139.19 L766.26 136.25 L766.91 133.31 L767.56 130.38 L768.21 127.44 L768.86 124.50 L769.52 121.57 L770.17 118.63 L770.83 115.70 L771.48 112.77 L772.14 109.84 L772.80 106.91 L773.46 103.98 L774.13 101.05 L774.79 98.12 L775.46 95.20 L776.13 92.28 L776.80 89.35 L774.84 88.90 L774.17 91.83 L773.50 94.75 L772.84 97.68 L772.17 100.61 L771.51 103.54 L770.84 106.47 L770.18 109.40 L769.53 112.33 L768.87 115.26 L768.21 118.20 L767.56 121.13 L766.91 124.07 L766.25 127.00 L765.60 129.94 L764.95 132.88 L764.30 135.82 L763.65 138.76 L763.01 141.70 L762.36 144.64 L761.71 147.58 L761.06 150.52 L760.42 153.47 L759.77 156.41 L759.12 159.35 L758.47 162.30 L757.83 165.24 L757.18 168.18 L756.53 171.13 L755.88 174.07 L755.23 177.02 L754.58 179.96 L753.93 182.91 L753.28 185.85 L752.63 188.80 L751.97 191.74 L751.32 194.69 L750.66 197.63 L750.00 200.58 L749.34 203.52 L748.68 206.47 L748.02 209.41 L747.35 212.35 L746.69 215.30 L746.02 218.24 L745.35 221.18 L744.68 224.12 L744.00 227.06 L743.32 230.00 L742.64 232.94 L741.96 235.88 L741.27 238.82 L740.58 241.76 L739.89 244.70 L739.20 247.63 L738.50 250.57 L737.80 253.50 L737.09 256.44 L736.39 259.37 L735.67 262.30 L734.96 265.23 L734.24 268.16 L733.52 271.09 L732.79 274.01 L732.06 276.94 L731.33 279.86 L730.59 282.79 L729.84 285.71 L729.10 288.63 L728.34 291.55 L727.59 294.47 L726.83 297.38 L726.06 300.30 L725.29 303.21 L724.51 306.12 L723.73 309.03 L722.94 311.94 L722.15 314.85 L721.35 317.75 L720.55 320.65 L719.74 323.55 L718.93 326.45 L718.11 329.35 L717.28 332.24 L716.45 335.14 L715.61 338.03 L714.76 340.92 L713.91 343.80 L713.05 346.69 L712.19 349.57 L711.32 352.45 L710.44 355.33 L709.56 358.20 L708.67 361.08 L707.77 363.95 L706.86 366.82 L705.95 369.68 L705.04 372.55 L704.11 375.41 L703.18 378.27 L702.24 381.12 L701.30 383.98 L700.35 386.83 L699.39 389.68 L698.43 392.53 L697.46 395.38 L696.48 398.22 L695.50 401.06 L694.51 403.90 L693.52 406.74 L692.52 409.58 L691.51 412.41 L690.50 415.24 L689.48 418.07 L688.45 420.90 L687.42 423.72 L686.39 426.54 L685.34 429.36 L684.29 432.18 L683.24 435.00 L682.18 437.81 L681.11 440.63 L680.04 443.44 L678.97 446.24 L677.88 449.05 L676.79 451.85 L675.70 454.66 L674.60 457.46 L673.50 460.26 L672.39 463.05 L671.27 465.85 L670.15 468.64 L669.02 471.43 L667.89 474.22 L666.75 477.00 L665.61 479.79 L664.46 482.57 L663.31 485.35 L662.15 488.13 L660.99 490.90 L659.82 493.68 L658.65 496.45 L657.47 499.22 L656.29 501.99 L655.10 504.76 L653.91 507.52 L652.71 510.29 L651.51 513.05 L650.30 515.81 L649.09 518.56 L647.87 521.32 L646.65 524.07 L645.43 526.83 L644.20 529.58 L642.96 532.33 L641.73 535.07 L640.48 537.82 L639.23 540.56 L637.98 543.30 L636.73 546.04 L635.47 548.78 L634.20 551.52 L632.93 554.25 L631.66 556.98 L630.38 559.71 L629.10 562.44 L627.81 565.17 L626.52 567.90 L625.23 570.62 L623.93 573.34 L622.63 576.06 L621.32 578.78 L620.02 581.50 L618.70 584.22 L617.39 586.93 L616.06 589.64 L614.74 592.35 L613.41 595.06 L612.08 597.77 L610.74 600.47 L609.40 603.17 L608.06 605.87 L606.71 608.57 L605.36 611.27 L604.00 613.97 L602.64 616.66 L601.28 619.35 L599.91 622.04 L598.54 624.73 L597.16 627.41 L595.79 630.10 L594.40 632.78 L593.02 635.46 L591.63 638.14 L590.23 640.81 L588.83 643.48 L587.43 646.15 L586.02 648.82 L584.61 651.48 L583.19 654.15 L581.77 656.81 L580.35 659.46 L578.91 662.11 L577.48 664.76 L576.03 667.41 L574.58 670.05 L573.13 672.69 L571.67 675.33 L570.21 677.96 L568.73 680.59 L567.26 683.21 L565.77 685.83 L564.28 688.45 L562.79 691.06 L561.28 693.67 L559.77 696.28 L558.26 698.88 L556.73 701.47 L555.20 704.06 L553.66 706.65 L552.12 709.23 L550.57 711.81 L549.01 714.38 L547.44 716.94 L545.86 719.51 L544.28 722.06 L542.69 724.61 L541.09 727.16 L539.48 729.70 L537.86 732.23 L536.24 734.76 L534.60 737.29 L532.96 739.80 L531.31 742.32 L529.65 744.82 L527.98 747.32 L526.30 749.82 L524.61 752.30 L522.92 754.78 L521.21 757.26 L519.49 759.73 L517.76 762.19 L516.03 764.64 L514.28 767.09 L512.52 769.53 L510.76 771.96 L508.98 774.39 L507.19 776.81 L505.39 779.22 L503.58 781.63 L501.77 784.02 L499.94 786.42 L498.10 788.80 L496.25 791.18 L494.39 793.54 L492.53 795.91 L490.65 798.26 L488.76 800.60 L486.86 802.94 L484.96 805.27 L483.04 807.60 L481.11 809.91 L479.17 812.22 L477.23 814.52 L475.27 816.81 L473.31 819.09 L471.33 821.36 L469.35 823.63 L467.35 825.89 L465.35 828.14 L463.33 830.38 L461.31 832.61 L459.28 834.84 L457.24 837.05 L455.18 839.26 L453.12 841.46 L451.05 843.65 L448.97 845.83 L446.89 848.00 L444.79 850.16 L442.68 852.32 L440.57 854.46 L438.44 856.60 L436.31 858.73 L434.16 860.84 L432.01 862.95 L429.85 865.05 L427.68 867.14 L425.50 869.22 L423.31 871.29 L421.11 873.35 L418.91 875.41 L416.69 877.45 L414.47 879.48 L412.23 881.50 L409.99 883.51 L407.74 885.52 L405.48 887.51 L403.21 889.49 L400.94 891.46 L398.65 893.43 L396.36 895.38 L394.06 897.32 L391.75 899.25 L389.43 901.17 L387.10 903.08 L384.76 904.98 L382.42 906.87 L380.07 908.75 L377.70 910.62 L375.33 912.48 L372.96 914.33 L370.57 916.16 L368.18 917.99 L365.77 919.80 L363.36 921.60 L360.94 923.40 L358.52 925.18 L356.08 926.95 L353.64 928.71 L351.19 930.45 L348.73 932.19 L346.26 933.91 L343.78 935.63 L341.30 937.33 L338.81 939.02 L336.31 940.69 L333.80 942.36 L331.29 944.01 L328.76 945.66 L326.23 947.29 L323.70 948.91 L321.15 950.51 L318.60 952.11 L316.04 953.69 L313.47 955.26 L310.89 956.82 L308.31 958.37 L305.72 959.90 L303.12 961.42 L300.51 962.93 L297.90 964.42 L295.27 965.91 L292.65 967.38 L290.01 968.84 L287.37 970.28 L284.72 971.72 L282.06 973.13 L279.39 974.54 L276.72 975.94 L274.04 977.32 L271.36 978.68 L268.66 980.04 L265.96 981.38 L263.25 982.71 L260.54 984.02 L257.82 985.32 L255.09 986.61 L252.35 987.88 L249.61 989.14 L246.86 990.39 L244.10 991.62Z M67.16 1056.26 L70.15 1055.81 L73.13 1055.34 L76.11 1054.87 L79.09 1054.38 L82.07 1053.88 L85.04 1053.36 L88.01 1052.84 L90.98 1052.30 L93.95 1051.75 L96.91 1051.18 L99.88 1050.60 L102.84 1050.01 L105.79 1049.41 L108.75 1048.79 L111.70 1048.17 L114.65 1047.53 L117.59 1046.87 L120.54 1046.21 L123.48 1045.53 L126.41 1044.84 L129.35 1044.14 L132.28 1043.43 L135.21 1042.70 L138.13 1041.97 L141.06 1041.22 L143.98 1040.46 L146.89 1039.68 L149.80 1038.90 L152.71 1038.10 L155.62 1037.29 L158.52 1036.47 L161.42 1035.64 L164.32 1034.80 L167.21 1033.94 L170.10 1033.07 L172.99 1032.20 L175.87 1031.31 L178.75 1030.40 L181.63 1029.49 L184.50 1028.57 L187.37 1027.63 L190.23 1026.69 L193.09 1025.73 L195.95 1024.76 L198.80 1023.78 L201.65 1022.79 L204.50 1021.79 L207.34 1020.77 L210.18 1019.75 L213.01 1018.71 L215.84 1017.67 L218.66 1016.61 L221.49 1015.54 L224.30 1014.47 L227.11 1013.38 L229.92 1012.28 L232.73 1011.17 L235.53 1010.05 L238.32 1008.92 L241.11 1007.77 L243.90 1006.62 L246.68 1005.46 L249.46 1004.28 L252.23 1003.10 L255.00 1001.90 L257.76 1000.69 L260.52 999.47 L263.27 998.25 L266.02 997.01 L268.76 995.75 L271.50 994.49 L274.23 993.22 L276.96 991.94 L279.69 990.64 L282.40 989.34 L285.12 988.02 L287.82 986.70 L290.52 985.36 L293.22 984.01 L295.91 982.65 L298.60 981.28 L301.28 979.90 L303.95 978.51 L306.62 977.10 L309.28 975.69 L311.94 974.26 L314.59 972.82 L317.24 971.38 L319.88 969.92 L322.51 968.45 L325.14 966.97 L327.76 965.48 L330.37 963.97 L332.98 962.46 L335.59 960.93 L338.18 959.40 L340.77 957.85 L343.36 956.29 L345.94 954.72 L348.51 953.14 L351.07 951.55 L353.63 949.94 L356.18 948.33 L358.73 946.70 L361.26 945.07 L363.80 943.42 L366.32 941.76 L368.84 940.09 L371.35 938.41 L373.85 936.72 L376.35 935.02 L378.84 933.31 L381.32 931.58 L383.80 929.85 L386.26 928.10 L388.73 926.35 L391.18 924.58 L393.62 922.81 L396.06 921.02 L398.49 919.22 L400.92 917.41 L403.33 915.60 L405.74 913.77 L408.14 911.93 L410.53 910.08 L412.92 908.22 L415.29 906.35 L417.66 904.47 L420.02 902.58 L422.37 900.68 L424.72 898.77 L427.06 896.85 L429.38 894.92 L431.70 892.98 L434.01 891.03 L436.32 889.07 L438.61 887.10 L440.90 885.12 L443.17 883.14 L445.44 881.14 L447.70 879.13 L449.95 877.11 L452.20 875.08 L454.43 873.05 L456.65 871.00 L458.87 868.95 L461.08 866.88 L463.27 864.81 L465.46 862.72 L467.64 860.63 L469.81 858.53 L471.97 856.42 L474.12 854.29 L476.27 852.16 L478.40 850.03 L480.52 847.88 L482.63 845.72 L484.74 843.55 L486.83 841.38 L488.91 839.19 L490.99 837.00 L493.05 834.79 L495.10 832.58 L497.14 830.36 L499.17 828.13 L501.19 825.89 L503.21 823.64 L505.20 821.38 L507.19 819.12 L509.17 816.84 L511.14 814.55 L513.09 812.26 L515.04 809.96 L516.97 807.65 L518.89 805.32 L520.80 802.99 L522.70 800.66 L524.58 798.31 L526.46 795.95 L528.32 793.59 L530.18 791.22 L532.02 788.84 L533.85 786.45 L535.67 784.05 L537.48 781.64 L539.28 779.23 L541.06 776.81 L542.84 774.38 L544.60 771.94 L546.36 769.49 L548.10 767.04 L549.83 764.58 L551.55 762.11 L553.26 759.63 L554.96 757.15 L556.65 754.66 L558.33 752.16 L560.00 749.65 L561.65 747.14 L563.30 744.62 L564.93 742.10 L566.56 739.56 L568.17 737.02 L569.78 734.47 L571.37 731.92 L572.96 729.36 L574.53 726.80 L576.10 724.22 L577.65 721.65 L579.20 719.06 L580.74 716.47 L582.27 713.88 L583.79 711.28 L585.30 708.67 L586.81 706.06 L588.30 703.44 L589.79 700.82 L591.27 698.20 L592.75 695.57 L594.22 692.93 L595.68 690.29 L597.13 687.65 L598.58 685.00 L600.02 682.35 L601.45 679.70 L602.88 677.04 L604.30 674.38 L605.72 671.71 L607.13 669.04 L608.54 666.37 L609.94 663.70 L611.34 661.02 L612.73 658.34 L614.12 655.65 L615.51 652.97 L616.89 650.28 L618.26 647.59 L619.64 644.90 L621.01 642.21 L622.37 639.51 L623.74 636.81 L625.10 634.12 L626.45 631.42 L627.81 628.71 L629.16 626.01 L630.51 623.31 L631.86 620.60 L633.21 617.90 L634.55 615.19 L635.89 612.48 L637.23 609.77 L638.57 607.06 L639.90 604.35 L641.23 601.63 L642.56 598.92 L643.88 596.20 L645.20 593.48 L646.52 590.76 L647.84 588.04 L649.15 585.32 L650.46 582.59 L651.76 579.87 L653.07 577.14 L654.36 574.41 L655.66 571.68 L656.95 568.95 L658.24 566.22 L659.52 563.48 L660.80 560.75 L662.08 558.01 L663.35 555.27 L664.62 552.53 L665.89 549.79 L667.15 547.04 L668.41 544.30 L669.66 541.55 L670.91 538.80 L672.15 536.05 L673.40 533.29 L674.63 530.54 L675.86 527.78 L677.09 525.03 L678.31 522.27 L679.53 519.51 L680.74 516.74 L681.95 513.98 L683.16 511.21 L684.36 508.44 L685.55 505.67 L686.74 502.90 L687.92 500.13 L689.10 497.35 L690.28 494.57 L691.44 491.79 L692.61 489.01 L693.77 486.23 L694.92 483.44 L696.07 480.65 L697.21 477.86 L698.34 475.07 L699.47 472.28 L700.60 469.48 L701.72 466.69 L702.83 463.89 L703.94 461.08 L705.04 458.28 L706.14 455.48 L707.23 452.67 L708.31 449.86 L709.39 447.05 L710.46 444.23 L711.52 441.41 L712.58 438.60 L713.63 435.78 L714.68 432.95 L715.72 430.13 L716.75 427.30 L717.78 424.47 L718.80 421.64 L719.81 418.80 L720.81 415.97 L721.81 413.13 L722.80 410.29 L723.79 407.45 L724.77 404.60 L725.74 401.75 L726.70 398.90 L727.66 396.05 L728.61 393.19 L729.55 390.34 L730.48 387.48 L731.41 384.61 L732.33 381.75 L733.24 378.88 L734.14 376.01 L735.04 373.14 L735.93 370.27 L736.81 367.39 L737.68 364.51 L738.55 361.63 L739.40 358.74 L740.25 355.86 L741.09 352.97 L741.93 350.07 L742.75 347.18 L743.57 344.28 L744.38 341.38 L745.18 338.48 L745.97 335.58 L746.76 332.67 L747.54 329.76 L748.32 326.85 L749.08 323.94 L749.85 321.03 L750.60 318.11 L751.35 315.20 L752.09 312.28 L752.83 309.36 L753.56 306.43 L754.29 303.51 L755.01 300.58 L755.73 297.66 L756.44 294.73 L757.15 291.80 L757.85 288.87 L758.55 285.93 L759.25 283.00 L759.94 280.06 L760.62 277.13 L761.31 274.19 L761.99 271.25 L762.66 268.31 L763.33 265.37 L764.00 262.43 L764.67 259.49 L765.34 256.55 L766.00 253.60 L766.66 250.66 L767.32 247.72 L767.97 244.77 L768.63 241.83 L769.28 238.88 L769.93 235.93 L770.58 232.99 L771.23 230.04 L771.88 227.09 L772.52 224.15 L773.17 221.20 L773.82 218.25 L774.46 215.30 L775.11 212.36 L775.75 209.41 L776.40 206.46 L777.05 203.52 L777.69 200.57 L778.34 197.62 L778.99 194.68 L779.64 191.73 L780.29 188.79 L780.94 185.84 L781.60 182.90 L782.25 179.96 L782.91 177.01 L783.57 174.07 L784.23 171.13 L784.89 168.19 L785.56 165.25 L786.23 162.32 L786.90 159.38 L787.58 156.44 L788.26 153.51 L788.94 150.57 L789.63 147.64 L790.32 144.71 L791.01 141.78 L791.71 138.85 L792.41 135.93 L793.12 133.00 L793.83 130.08 L794.55 127.15 L795.27 124.23 L795.99 121.32 L796.73 118.40 L797.46 115.48 L798.21 112.57 L798.95 109.66 L799.71 106.75 L800.47 103.84 L801.24 100.94 L802.01 98.03 L802.79 95.13 L803.58 92.23 L804.37 89.34 L802.42 88.80 L801.62 91.70 L800.83 94.61 L800.05 97.51 L799.28 100.42 L798.51 103.33 L797.75 106.24 L797.00 109.15 L796.25 112.07 L795.51 114.99 L794.77 117.91 L794.04 120.83 L793.31 123.75 L792.59 126.67 L791.87 129.60 L791.16 132.53 L790.45 135.46 L789.75 138.39 L789.05 141.32 L788.36 144.25 L787.67 147.18 L786.98 150.12 L786.30 153.05 L785.62 155.99 L784.95 158.93 L784.27 161.87 L783.60 164.81 L782.94 167.75 L782.27 170.69 L781.61 173.63 L780.95 176.58 L780.29 179.52 L779.64 182.46 L778.98 185.41 L778.33 188.35 L777.68 191.30 L777.03 194.25 L776.38 197.19 L775.73 200.14 L775.09 203.09 L774.44 206.03 L773.79 208.98 L773.15 211.93 L772.50 214.88 L771.86 217.82 L771.21 220.77 L770.57 223.72 L769.92 226.66 L769.27 229.61 L768.62 232.56 L767.97 235.50 L767.32 238.45 L766.67 241.39 L766.01 244.34 L765.36 247.28 L764.70 250.22 L764.04 253.16 L763.38 256.11 L762.71 259.05 L762.05 261.99 L761.38 264.93 L760.70 267.86 L760.03 270.80 L759.35 273.74 L758.66 276.67 L757.98 279.60 L757.29 282.54 L756.59 285.47 L755.89 288.40 L755.19 291.33 L754.48 294.25 L753.77 297.18 L753.06 300.10 L752.33 303.02 L751.61 305.94 L750.88 308.86 L750.14 311.78 L749.39 314.69 L748.65 317.61 L747.89 320.52 L747.13 323.43 L746.36 326.34 L745.59 329.24 L744.81 332.14 L744.02 335.05 L743.23 337.94 L742.42 340.84 L741.61 343.73 L740.80 346.63 L739.97 349.51 L739.14 352.40 L738.30 355.29 L737.45 358.17 L736.60 361.05 L735.73 363.92 L734.86 366.80 L733.98 369.67 L733.09 372.54 L732.20 375.40 L731.29 378.27 L730.38 381.13 L729.47 383.99 L728.54 386.84 L727.61 389.70 L726.67 392.55 L725.72 395.40 L724.76 398.25 L723.80 401.09 L722.83 403.94 L721.85 406.78 L720.87 409.62 L719.88 412.45 L718.88 415.28 L717.87 418.12 L716.86 420.95 L715.84 423.77 L714.82 426.60 L713.79 429.42 L712.75 432.24 L711.71 435.06 L710.65 437.87 L709.60 440.69 L708.53 443.50 L707.46 446.31 L706.39 449.12 L705.30 451.92 L704.22 454.73 L703.12 457.53 L702.02 460.33 L700.91 463.13 L699.80 465.92 L698.68 468.71 L697.56 471.51 L696.43 474.30 L695.29 477.08 L694.15 479.87 L693.01 482.65 L691.85 485.43 L690.70 488.21 L689.54 490.99 L688.37 493.77 L687.19 496.54 L686.02 499.31 L684.83 502.08 L683.65 504.85 L682.45 507.62 L681.25 510.39 L680.05 513.15 L678.84 515.91 L677.63 518.67 L676.41 521.43 L675.19 524.18 L673.97 526.94 L672.74 529.69 L671.50 532.44 L670.26 535.19 L669.02 537.94 L667.77 540.69 L666.52 543.43 L665.26 546.17 L664.00 548.92 L662.74 551.66 L661.47 554.39 L660.20 557.13 L658.92 559.87 L657.64 562.60 L656.36 565.33 L655.07 568.06 L653.78 570.79 L652.48 573.52 L651.19 576.24 L649.88 578.97 L648.58 581.69 L647.27 584.41 L645.96 587.13 L644.65 589.85 L643.33 592.57 L642.01 595.29 L640.68 598.00 L639.36 600.71 L638.03 603.43 L636.70 606.14 L635.36 608.85 L634.02 611.56 L632.68 614.26 L631.34 616.97 L629.99 619.67 L628.65 622.38 L627.30 625.08 L625.94 627.78 L624.59 630.48 L623.23 633.18 L621.87 635.87 L620.51 638.57 L619.14 641.26 L617.77 643.95 L616.40 646.64 L615.03 649.33 L613.65 652.01 L612.26 654.70 L610.88 657.37 L609.49 660.05 L608.09 662.73 L606.69 665.40 L605.28 668.06 L603.87 670.73 L602.46 673.39 L601.04 676.05 L599.61 678.70 L598.18 681.35 L596.74 684.00 L595.29 686.64 L593.84 689.28 L592.38 691.91 L590.92 694.54 L589.44 697.17 L587.97 699.79 L586.48 702.40 L584.98 705.01 L583.48 707.62 L581.97 710.22 L580.45 712.81 L578.93 715.40 L577.39 717.98 L575.85 720.56 L574.30 723.13 L572.73 725.70 L571.16 728.26 L569.58 730.81 L567.99 733.35 L566.39 735.89 L564.78 738.43 L563.16 740.95 L561.53 743.47 L559.89 745.98 L558.23 748.49 L556.57 750.99 L554.90 753.48 L553.21 755.96 L551.52 758.44 L549.81 760.90 L548.10 763.36 L546.37 765.82 L544.63 768.26 L542.88 770.70 L541.13 773.13 L539.35 775.55 L537.57 777.97 L535.78 780.37 L533.98 782.77 L532.16 785.16 L530.34 787.54 L528.50 789.91 L526.66 792.28 L524.80 794.64 L522.93 796.98 L521.05 799.32 L519.15 801.65 L517.25 803.97 L515.33 806.29 L513.41 808.59 L511.47 810.89 L509.52 813.17 L507.56 815.45 L505.59 817.72 L503.61 819.98 L501.62 822.23 L499.61 824.47 L497.60 826.70 L495.57 828.92 L493.54 831.14 L491.49 833.34 L489.44 835.54 L487.37 837.73 L485.29 839.90 L483.21 842.07 L481.11 844.23 L479.00 846.38 L476.89 848.53 L474.76 850.66 L472.63 852.78 L470.48 854.90 L468.33 857.00 L466.17 859.10 L463.99 861.18 L461.81 863.26 L459.62 865.33 L457.42 867.39 L455.21 869.44 L452.99 871.48 L450.77 873.51 L448.53 875.53 L446.29 877.54 L444.03 879.54 L441.77 881.54 L439.50 883.52 L437.22 885.49 L434.94 887.46 L432.64 889.41 L430.34 891.35 L428.02 893.29 L425.70 895.21 L423.37 897.13 L421.04 899.03 L418.69 900.93 L416.34 902.81 L413.98 904.68 L411.61 906.55 L409.23 908.40 L406.85 910.25 L404.45 912.08 L402.05 913.90 L399.65 915.72 L397.23 917.52 L394.81 919.31 L392.38 921.09 L389.94 922.87 L387.49 924.63 L385.04 926.38 L382.58 928.12 L380.11 929.85 L377.64 931.57 L375.15 933.27 L372.67 934.97 L370.17 936.66 L367.67 938.33 L365.16 940.00 L362.64 941.65 L360.12 943.30 L357.59 944.93 L355.05 946.55 L352.51 948.16 L349.96 949.76 L347.40 951.35 L344.84 952.92 L342.27 954.49 L339.69 956.04 L337.11 957.59 L334.52 959.12 L331.92 960.64 L329.32 962.15 L326.72 963.65 L324.10 965.14 L321.48 966.62 L318.86 968.08 L316.23 969.54 L313.59 970.98 L310.95 972.42 L308.30 973.84 L305.64 975.25 L302.98 976.65 L300.31 978.04 L297.64 979.42 L294.97 980.79 L292.28 982.14 L289.59 983.49 L286.90 984.82 L284.20 986.15 L281.50 987.46 L278.79 988.76 L276.07 990.06 L273.35 991.34 L270.63 992.61 L267.90 993.86 L265.16 995.11 L262.42 996.35 L259.68 997.58 L256.93 998.79 L254.17 1000.00 L251.41 1001.19 L248.65 1002.37 L245.88 1003.55 L243.10 1004.71 L240.33 1005.86 L237.54 1007.00 L234.75 1008.13 L231.96 1009.25 L229.17 1010.36 L226.37 1011.46 L223.56 1012.54 L220.75 1013.62 L217.94 1014.69 L215.12 1015.74 L212.30 1016.78 L209.48 1017.82 L206.65 1018.84 L203.81 1019.85 L200.98 1020.85 L198.13 1021.84 L195.29 1022.82 L192.44 1023.79 L189.59 1024.74 L186.73 1025.69 L183.87 1026.62 L181.01 1027.55 L178.14 1028.46 L175.27 1029.36 L172.39 1030.25 L169.52 1031.13 L166.63 1031.99 L163.75 1032.85 L160.86 1033.69 L157.97 1034.52 L155.07 1035.34 L152.17 1036.15 L149.27 1036.94 L146.37 1037.73 L143.46 1038.50 L140.55 1039.26 L137.64 1040.01 L134.72 1040.75 L131.80 1041.47 L128.87 1042.19 L125.95 1042.89 L123.02 1043.58 L120.09 1044.25 L117.15 1044.92 L114.22 1045.57 L111.28 1046.21 L108.33 1046.84 L105.39 1047.45 L102.44 1048.05 L99.49 1048.64 L96.54 1049.22 L93.58 1049.79 L90.62 1050.34 L87.66 1050.88 L84.70 1051.41 L81.73 1051.92 L78.77 1052.42 L75.80 1052.91 L72.82 1053.39 L69.85 1053.85 L66.87 1054.30Z M67.31 1066.99 L70.24 1066.46 L73.17 1065.91 L76.10 1065.37 L79.03 1064.81 L81.96 1064.25 L84.90 1063.69 L87.83 1063.12 L90.76 1062.54 L93.70 1061.96 L96.63 1061.37 L99.57 1060.77 L102.51 1060.17 L105.44 1059.57 L108.38 1058.96 L111.32 1058.34 L114.25 1057.71 L117.19 1057.08 L120.13 1056.44 L123.07 1055.80 L126.00 1055.15 L128.94 1054.49 L131.88 1053.83 L134.81 1053.16 L137.75 1052.48 L140.68 1051.80 L143.62 1051.11 L146.55 1050.41 L149.49 1049.71 L152.42 1049.00 L155.35 1048.28 L158.28 1047.55 L161.21 1046.82 L164.14 1046.08 L167.07 1045.34 L170.00 1044.58 L172.92 1043.82 L175.85 1043.05 L178.77 1042.27 L181.69 1041.49 L184.61 1040.70 L187.53 1039.90 L190.44 1039.09 L193.36 1038.28 L196.27 1037.45 L199.18 1036.62 L202.09 1035.78 L205.00 1034.94 L207.90 1034.08 L210.81 1033.22 L213.71 1032.34 L216.60 1031.46 L219.50 1030.58 L222.39 1029.68 L225.28 1028.77 L228.17 1027.86 L231.06 1026.94 L233.94 1026.01 L236.82 1025.07 L239.70 1024.12 L242.57 1023.16 L245.44 1022.19 L248.31 1021.22 L251.17 1020.23 L254.03 1019.24 L256.89 1018.24 L259.75 1017.23 L262.60 1016.20 L265.45 1015.17 L268.29 1014.13 L271.13 1013.08 L273.97 1012.03 L276.80 1010.96 L279.63 1009.88 L282.45 1008.79 L285.27 1007.69 L288.09 1006.59 L290.90 1005.47 L293.71 1004.34 L296.52 1003.21 L299.32 1002.06 L302.11 1000.90 L304.90 999.73 L307.69 998.56 L310.47 997.37 L313.25 996.17 L316.02 994.96 L318.78 993.74 L321.55 992.51 L324.30 991.27 L327.06 990.02 L329.80 988.76 L332.54 987.49 L335.28 986.20 L338.01 984.91 L340.74 983.61 L343.46 982.29 L346.17 980.96 L348.88 979.62 L351.58 978.27 L354.28 976.91 L356.97 975.54 L359.66 974.16 L362.33 972.76 L365.01 971.36 L367.67 969.94 L370.34 968.51 L372.99 967.07 L375.64 965.62 L378.28 964.16 L380.91 962.69 L383.54 961.20 L386.16 959.71 L388.78 958.20 L391.38 956.68 L393.98 955.15 L396.58 953.61 L399.16 952.06 L401.74 950.50 L404.31 948.92 L406.88 947.33 L409.43 945.74 L411.98 944.13 L414.53 942.51 L417.06 940.88 L419.59 939.23 L422.10 937.58 L424.61 935.91 L427.12 934.23 L429.61 932.55 L432.10 930.85 L434.57 929.13 L437.04 927.41 L439.50 925.68 L441.96 923.93 L444.40 922.17 L446.83 920.41 L449.26 918.63 L451.68 916.83 L454.09 915.03 L456.49 913.22 L458.88 911.39 L461.26 909.55 L463.63 907.70 L465.99 905.84 L468.35 903.97 L470.69 902.09 L473.03 900.19 L475.35 898.29 L477.67 896.37 L479.97 894.44 L482.27 892.50 L484.56 890.55 L486.83 888.58 L489.10 886.61 L491.35 884.62 L493.60 882.62 L495.83 880.61 L498.06 878.59 L500.27 876.56 L502.48 874.51 L504.67 872.45 L506.85 870.39 L509.02 868.31 L511.18 866.21 L513.33 864.11 L515.47 862.00 L517.60 859.87 L519.72 857.73 L521.82 855.58 L523.92 853.42 L526.00 851.25 L528.07 849.07 L530.14 846.88 L532.19 844.68 L534.23 842.46 L536.26 840.24 L538.28 838.00 L540.29 835.76 L542.29 833.50 L544.28 831.24 L546.26 828.97 L548.23 826.68 L550.19 824.39 L552.14 822.09 L554.08 819.78 L556.01 817.46 L557.93 815.13 L559.85 812.79 L561.75 810.45 L563.64 808.09 L565.53 805.73 L567.40 803.36 L569.27 800.98 L571.13 798.59 L572.98 796.20 L574.81 793.80 L576.65 791.39 L578.47 788.97 L580.28 786.55 L582.09 784.12 L583.89 781.68 L585.67 779.24 L587.46 776.79 L589.23 774.33 L590.99 771.87 L592.75 769.40 L594.50 766.92 L596.24 764.44 L597.97 761.95 L599.70 759.46 L601.42 756.96 L603.13 754.46 L604.83 751.95 L606.53 749.43 L608.22 746.91 L609.90 744.39 L611.58 741.86 L613.25 739.33 L614.91 736.79 L616.56 734.25 L618.21 731.70 L619.85 729.15 L621.49 726.60 L623.12 724.04 L624.74 721.48 L626.35 718.91 L627.96 716.35 L629.57 713.77 L631.17 711.20 L632.76 708.62 L634.34 706.04 L635.92 703.46 L637.50 700.87 L639.06 698.28 L640.62 695.69 L642.18 693.09 L643.73 690.49 L645.27 687.89 L646.80 685.28 L648.33 682.67 L649.86 680.06 L651.37 677.44 L652.88 674.82 L654.39 672.20 L655.89 669.57 L657.38 666.95 L658.86 664.31 L660.34 661.68 L661.81 659.04 L663.28 656.40 L664.74 653.76 L666.19 651.11 L667.64 648.46 L669.08 645.80 L670.51 643.15 L671.94 640.49 L673.36 637.82 L674.77 635.16 L676.18 632.49 L677.58 629.82 L678.97 627.14 L680.36 624.46 L681.74 621.78 L683.11 619.10 L684.48 616.41 L685.84 613.72 L687.19 611.03 L688.54 608.33 L689.88 605.63 L691.21 602.93 L692.54 600.22 L693.86 597.51 L695.17 594.80 L696.48 592.09 L697.78 589.37 L699.07 586.65 L700.35 583.93 L701.63 581.20 L702.90 578.47 L704.17 575.74 L705.43 573.00 L706.68 570.27 L707.92 567.53 L709.16 564.78 L710.39 562.03 L711.61 559.29 L712.83 556.53 L714.04 553.78 L715.24 551.02 L716.44 548.26 L717.63 545.50 L718.81 542.73 L719.99 539.96 L721.16 537.19 L722.32 534.42 L723.48 531.64 L724.64 528.86 L725.78 526.08 L726.92 523.30 L728.06 520.51 L729.19 517.72 L730.31 514.93 L731.43 512.14 L732.54 509.35 L733.65 506.55 L734.75 503.75 L735.84 500.94 L736.93 498.14 L738.02 495.33 L739.10 492.52 L740.17 489.71 L741.24 486.90 L742.30 484.09 L743.36 481.27 L744.41 478.45 L745.46 475.63 L746.50 472.80 L747.54 469.98 L748.58 467.15 L749.60 464.32 L750.63 461.49 L751.65 458.66 L752.66 455.82 L753.67 452.99 L754.68 450.15 L755.68 447.31 L756.68 444.47 L757.67 441.62 L758.66 438.78 L759.65 435.93 L760.63 433.08 L761.60 430.23 L762.58 427.38 L763.55 424.53 L764.51 421.67 L765.47 418.82 L766.43 415.96 L767.38 413.10 L768.34 410.24 L769.28 407.38 L770.23 404.51 L771.17 401.65 L772.10 398.78 L773.03 395.92 L773.96 393.05 L774.89 390.18 L775.82 387.31 L776.74 384.44 L777.65 381.56 L778.57 378.69 L779.48 375.81 L780.39 372.94 L781.30 370.06 L782.20 367.18 L783.10 364.30 L784.00 361.42 L784.89 358.54 L785.79 355.66 L786.68 352.78 L787.57 349.89 L788.45 347.01 L789.34 344.12 L790.22 341.23 L791.09 338.35 L791.97 335.46 L792.84 332.57 L793.71 329.68 L794.58 326.79 L795.44 323.89 L796.31 321.00 L797.17 318.11 L798.02 315.21 L798.87 312.32 L799.72 309.42 L800.57 306.52 L801.41 303.62 L802.25 300.72 L803.09 297.82 L803.92 294.92 L804.75 292.02 L805.58 289.12 L806.40 286.21 L807.22 283.31 L808.04 280.40 L808.85 277.50 L809.66 274.59 L810.47 271.68 L811.27 268.77 L812.07 265.86 L812.87 262.95 L813.66 260.04 L814.44 257.13 L815.23 254.21 L816.01 251.30 L816.78 248.38 L817.55 245.47 L818.32 242.55 L819.08 239.63 L819.84 236.71 L820.60 233.79 L821.35 230.87 L822.09 227.95 L822.83 225.03 L823.57 222.10 L824.30 219.18 L825.03 216.25 L825.75 213.32 L826.46 210.40 L827.18 207.47 L827.88 204.54 L828.58 201.61 L829.28 198.67 L829.96 195.74 L830.65 192.81 L831.32 189.87 L831.99 186.93 L832.66 183.99 L833.32 181.05 L833.97 178.11 L834.61 175.17 L835.25 172.23 L835.88 169.28 L836.50 166.34 L837.12 163.39 L837.73 160.44 L838.33 157.49 L838.93 154.54 L839.52 151.59 L840.10 148.63 L840.67 145.68 L841.23 142.72 L841.79 139.76 L842.34 136.80 L842.88 133.84 L843.41 130.88 L843.93 127.92 L844.44 124.95 L844.95 121.98 L845.44 119.01 L845.93 116.04 L846.41 113.07 L846.88 110.10 L847.34 107.12 L847.79 104.14 L848.23 101.16 L848.66 98.18 L849.08 95.20 L849.49 92.22 L849.89 89.23 L847.94 88.97 L847.54 91.95 L847.13 94.93 L846.71 97.90 L846.28 100.88 L845.84 103.85 L845.38 106.82 L844.92 109.79 L844.45 112.76 L843.98 115.72 L843.49 118.69 L842.99 121.65 L842.49 124.61 L841.97 127.57 L841.45 130.53 L840.92 133.49 L840.38 136.44 L839.83 139.40 L839.27 142.35 L838.71 145.30 L838.14 148.25 L837.56 151.20 L836.97 154.15 L836.38 157.10 L835.77 160.04 L835.16 162.98 L834.55 165.93 L833.92 168.87 L833.29 171.81 L832.65 174.74 L832.01 177.68 L831.36 180.62 L830.70 183.55 L830.04 186.49 L829.37 189.42 L828.69 192.35 L828.01 195.28 L827.32 198.21 L826.62 201.14 L825.92 204.07 L825.22 206.99 L824.51 209.92 L823.79 212.84 L823.07 215.77 L822.34 218.69 L821.61 221.61 L820.88 224.53 L820.14 227.45 L819.39 230.37 L818.64 233.29 L817.89 236.20 L817.13 239.12 L816.36 242.04 L815.60 244.95 L814.83 247.86 L814.05 250.78 L813.27 253.69 L812.49 256.60 L811.70 259.51 L810.91 262.42 L810.12 265.33 L809.32 268.23 L808.52 271.14 L807.71 274.05 L806.90 276.95 L806.09 279.86 L805.27 282.76 L804.45 285.66 L803.63 288.56 L802.80 291.46 L801.97 294.36 L801.14 297.26 L800.30 300.16 L799.46 303.06 L798.62 305.95 L797.77 308.85 L796.92 311.74 L796.07 314.64 L795.22 317.53 L794.36 320.42 L793.50 323.31 L792.63 326.20 L791.76 329.09 L790.89 331.98 L790.02 334.87 L789.15 337.75 L788.27 340.64 L787.39 343.52 L786.50 346.41 L785.62 349.29 L784.73 352.17 L783.84 355.06 L782.95 357.94 L782.05 360.82 L781.15 363.69 L780.25 366.57 L779.35 369.45 L778.44 372.32 L777.54 375.20 L776.62 378.07 L775.71 380.94 L774.79 383.81 L773.87 386.68 L772.95 389.55 L772.02 392.42 L771.09 395.29 L770.16 398.15 L769.22 401.01 L768.28 403.88 L767.34 406.74 L766.39 409.60 L765.44 412.45 L764.49 415.31 L763.53 418.16 L762.57 421.02 L761.61 423.87 L760.64 426.72 L759.67 429.57 L758.69 432.42 L757.71 435.26 L756.73 438.11 L755.74 440.95 L754.74 443.79 L753.75 446.63 L752.75 449.46 L751.74 452.30 L750.73 455.13 L749.72 457.96 L748.70 460.79 L747.67 463.62 L746.65 466.45 L745.61 469.27 L744.57 472.09 L743.53 474.91 L742.48 477.73 L741.43 480.55 L740.37 483.36 L739.31 486.17 L738.24 488.98 L737.17 491.79 L736.09 494.59 L735.01 497.40 L733.92 500.20 L732.83 502.99 L731.73 505.79 L730.62 508.58 L729.51 511.38 L728.39 514.16 L727.27 516.95 L726.14 519.74 L725.01 522.52 L723.87 525.30 L722.73 528.07 L721.57 530.85 L720.42 533.62 L719.25 536.39 L718.08 539.15 L716.91 541.92 L715.72 544.68 L714.53 547.44 L713.34 550.19 L712.14 552.95 L710.93 555.70 L709.71 558.44 L708.49 561.19 L707.26 563.93 L706.03 566.67 L704.78 569.40 L703.54 572.14 L702.28 574.87 L701.02 577.60 L699.75 580.32 L698.47 583.04 L697.19 585.76 L695.90 588.47 L694.60 591.19 L693.29 593.90 L691.98 596.60 L690.66 599.31 L689.34 602.01 L688.01 604.70 L686.67 607.40 L685.33 610.09 L683.97 612.78 L682.62 615.47 L681.25 618.15 L679.88 620.83 L678.50 623.50 L677.11 626.18 L675.72 628.85 L674.32 631.52 L672.92 634.18 L671.51 636.84 L670.09 639.50 L668.66 642.15 L667.23 644.81 L665.80 647.46 L664.35 650.10 L662.90 652.74 L661.44 655.38 L659.98 658.02 L658.51 660.65 L657.03 663.28 L655.55 665.91 L654.06 668.54 L652.57 671.16 L651.06 673.77 L649.55 676.39 L648.04 679.00 L646.52 681.61 L644.99 684.21 L643.46 686.82 L641.92 689.42 L640.37 692.01 L638.82 694.60 L637.26 697.19 L635.70 699.78 L634.12 702.36 L632.55 704.94 L630.96 707.52 L629.38 710.09 L627.78 712.66 L626.18 715.23 L624.57 717.79 L622.96 720.35 L621.34 722.91 L619.71 725.46 L618.08 728.01 L616.44 730.56 L614.79 733.10 L613.14 735.63 L611.48 738.17 L609.82 740.70 L608.14 743.22 L606.46 745.74 L604.78 748.25 L603.08 750.76 L601.38 753.26 L599.68 755.76 L597.96 758.26 L596.24 760.74 L594.51 763.23 L592.77 765.70 L591.02 768.17 L589.27 770.64 L587.51 773.09 L585.74 775.54 L583.96 777.99 L582.18 780.43 L580.39 782.86 L578.58 785.28 L576.77 787.70 L574.96 790.11 L573.13 792.51 L571.29 794.91 L569.45 797.29 L567.60 799.67 L565.74 802.05 L563.87 804.41 L561.99 806.77 L560.10 809.11 L558.20 811.45 L556.29 813.78 L554.38 816.10 L552.45 818.42 L550.52 820.72 L548.57 823.01 L546.62 825.30 L544.65 827.57 L542.68 829.84 L540.70 832.10 L538.70 834.34 L536.70 836.58 L534.69 838.81 L532.66 841.02 L530.63 843.23 L528.58 845.43 L526.53 847.61 L524.46 849.78 L522.39 851.95 L520.30 854.10 L518.20 856.24 L516.09 858.37 L513.97 860.49 L511.84 862.59 L509.70 864.69 L507.55 866.77 L505.38 868.85 L503.21 870.91 L501.02 872.95 L498.83 874.99 L496.62 877.02 L494.41 879.03 L492.18 881.04 L489.94 883.03 L487.70 885.01 L485.44 886.98 L483.17 888.93 L480.89 890.88 L478.61 892.81 L476.31 894.74 L474.00 896.65 L471.68 898.55 L469.36 900.44 L467.02 902.31 L464.68 904.18 L462.32 906.03 L459.96 907.88 L457.59 909.71 L455.20 911.53 L452.81 913.34 L450.41 915.13 L448.00 916.92 L445.59 918.69 L443.16 920.46 L440.72 922.21 L438.28 923.95 L435.83 925.68 L433.37 927.40 L430.90 929.10 L428.42 930.80 L425.93 932.48 L423.44 934.15 L420.94 935.82 L418.43 937.47 L415.91 939.10 L413.39 940.73 L410.85 942.35 L408.31 943.95 L405.76 945.55 L403.21 947.13 L400.65 948.70 L398.08 950.26 L395.50 951.81 L392.91 953.34 L390.32 954.87 L387.72 956.38 L385.12 957.89 L382.50 959.38 L379.88 960.86 L377.26 962.33 L374.63 963.79 L371.99 965.23 L369.34 966.67 L366.69 968.09 L364.03 969.51 L361.36 970.91 L358.69 972.30 L356.02 973.68 L353.33 975.05 L350.65 976.41 L347.95 977.75 L345.25 979.09 L342.54 980.41 L339.83 981.73 L337.11 983.03 L334.39 984.32 L331.66 985.60 L328.93 986.87 L326.19 988.13 L323.45 989.38 L320.70 990.62 L317.94 991.84 L315.18 993.06 L312.42 994.27 L309.65 995.46 L306.88 996.65 L304.10 997.83 L301.32 998.99 L298.53 1000.15 L295.73 1001.29 L292.94 1002.43 L290.14 1003.55 L287.33 1004.67 L284.52 1005.77 L281.71 1006.87 L278.89 1007.96 L276.07 1009.03 L273.24 1010.10 L270.41 1011.16 L267.58 1012.20 L264.74 1013.24 L261.90 1014.27 L259.06 1015.29 L256.21 1016.30 L253.36 1017.30 L250.50 1018.30 L247.65 1019.28 L244.78 1020.25 L241.92 1021.22 L239.05 1022.18 L236.18 1023.12 L233.31 1024.06 L230.43 1024.99 L227.55 1025.92 L224.67 1026.83 L221.79 1027.73 L218.90 1028.63 L216.01 1029.52 L213.12 1030.40 L210.22 1031.27 L207.33 1032.13 L204.43 1032.98 L201.53 1033.83 L198.62 1034.67 L195.72 1035.50 L192.81 1036.32 L189.90 1037.14 L186.99 1037.94 L184.08 1038.74 L181.16 1039.54 L178.25 1040.32 L175.33 1041.10 L172.41 1041.86 L169.49 1042.63 L166.57 1043.38 L163.65 1044.13 L160.72 1044.87 L157.80 1045.60 L154.87 1046.32 L151.94 1047.04 L149.01 1047.75 L146.09 1048.46 L143.16 1049.15 L140.23 1049.84 L137.30 1050.53 L134.36 1051.20 L131.43 1051.87 L128.50 1052.54 L125.57 1053.19 L122.63 1053.84 L119.70 1054.49 L116.77 1055.12 L113.83 1055.75 L110.90 1056.38 L107.97 1057.00 L105.04 1057.61 L102.10 1058.22 L99.17 1058.82 L96.24 1059.41 L93.31 1060.00 L90.38 1060.58 L87.45 1061.16 L84.52 1061.73 L81.59 1062.29 L78.66 1062.85 L75.73 1063.41 L72.81 1063.96 L69.88 1064.50 L66.96 1065.04Z M67.09 1081.16 L70.10 1080.94 L73.10 1080.71 L76.11 1080.47 L79.12 1080.22 L82.12 1079.96 L85.12 1079.69 L88.12 1079.41 L91.13 1079.12 L94.13 1078.83 L97.12 1078.52 L100.12 1078.20 L103.12 1077.87 L106.12 1077.53 L109.11 1077.19 L112.10 1076.83 L115.10 1076.46 L118.09 1076.09 L121.08 1075.70 L124.06 1075.30 L127.05 1074.90 L130.04 1074.48 L133.02 1074.06 L136.00 1073.62 L138.98 1073.18 L141.96 1072.72 L144.94 1072.26 L147.92 1071.79 L150.89 1071.30 L153.87 1070.81 L156.84 1070.31 L159.81 1069.80 L162.78 1069.27 L165.74 1068.74 L168.71 1068.20 L171.67 1067.65 L174.63 1067.09 L177.59 1066.52 L180.55 1065.94 L183.50 1065.35 L186.46 1064.75 L189.41 1064.14 L192.36 1063.52 L195.31 1062.90 L198.25 1062.26 L201.20 1061.61 L204.14 1060.95 L207.08 1060.29 L210.01 1059.61 L212.95 1058.93 L215.88 1058.23 L218.81 1057.53 L221.74 1056.81 L224.66 1056.09 L227.59 1055.35 L230.51 1054.61 L233.42 1053.86 L236.34 1053.10 L239.25 1052.32 L242.16 1051.54 L245.07 1050.75 L247.98 1049.95 L250.88 1049.14 L253.78 1048.32 L256.68 1047.49 L259.57 1046.65 L262.46 1045.81 L265.35 1044.95 L268.24 1044.08 L271.12 1043.20 L274.00 1042.32 L276.88 1041.42 L279.76 1040.52 L282.63 1039.60 L285.50 1038.68 L288.36 1037.74 L291.23 1036.80 L294.09 1035.85 L296.94 1034.89 L299.80 1033.91 L302.65 1032.93 L305.49 1031.94 L308.34 1030.94 L311.18 1029.93 L314.02 1028.91 L316.85 1027.88 L319.68 1026.85 L322.51 1025.80 L325.33 1024.74 L328.15 1023.67 L330.97 1022.60 L333.78 1021.51 L336.59 1020.42 L339.40 1019.31 L342.20 1018.20 L345.00 1017.08 L347.80 1015.94 L350.59 1014.80 L353.38 1013.65 L356.16 1012.49 L358.94 1011.32 L361.72 1010.14 L364.49 1008.95 L367.26 1007.75 L370.03 1006.55 L372.79 1005.33 L375.55 1004.10 L378.30 1002.87 L381.05 1001.62 L383.79 1000.37 L386.53 999.10 L389.27 997.83 L392.01 996.55 L394.73 995.25 L397.46 993.95 L400.18 992.64 L402.90 991.32 L405.61 989.99 L408.31 988.65 L411.02 987.31 L413.72 985.95 L416.41 984.58 L419.10 983.20 L421.79 981.82 L424.47 980.42 L427.14 979.02 L429.82 977.61 L432.48 976.18 L435.15 974.75 L437.80 973.31 L440.46 971.86 L443.10 970.40 L445.75 968.93 L448.39 967.45 L451.02 965.96 L453.65 964.46 L456.27 962.96 L458.88 961.44 L461.50 959.91 L464.10 958.38 L466.70 956.83 L469.29 955.28 L471.88 953.71 L474.46 952.14 L477.04 950.55 L479.61 948.96 L482.17 947.35 L484.73 945.74 L487.28 944.11 L489.82 942.48 L492.36 940.84 L494.89 939.18 L497.41 937.52 L499.93 935.84 L502.43 934.16 L504.94 932.47 L507.43 930.76 L509.92 929.05 L512.40 927.33 L514.87 925.59 L517.33 923.85 L519.79 922.09 L522.24 920.33 L524.68 918.55 L527.11 916.77 L529.53 914.97 L531.95 913.17 L534.36 911.35 L536.76 909.53 L539.15 907.69 L541.53 905.84 L543.90 903.99 L546.27 902.12 L548.62 900.24 L550.97 898.35 L553.30 896.45 L555.63 894.54 L557.95 892.62 L560.26 890.69 L562.56 888.75 L564.85 886.79 L567.13 884.83 L569.40 882.86 L571.66 880.87 L573.91 878.87 L576.16 876.87 L578.39 874.85 L580.61 872.82 L582.82 870.78 L585.02 868.73 L587.21 866.67 L589.38 864.60 L591.55 862.52 L593.71 860.42 L595.86 858.32 L597.99 856.20 L600.11 854.08 L602.23 851.94 L604.33 849.79 L606.42 847.63 L608.50 845.46 L610.57 843.28 L612.63 841.09 L614.68 838.89 L616.72 836.68 L618.74 834.46 L620.76 832.23 L622.76 829.99 L624.76 827.74 L626.74 825.48 L628.72 823.21 L630.68 820.93 L632.63 818.64 L634.57 816.34 L636.50 814.03 L638.42 811.72 L640.33 809.39 L642.23 807.06 L644.12 804.71 L646.00 802.36 L647.88 800.00 L649.74 797.64 L651.59 795.26 L653.43 792.88 L655.27 790.48 L657.09 788.09 L658.91 785.68 L660.72 783.27 L662.52 780.84 L664.31 778.42 L666.09 775.98 L667.86 773.54 L669.62 771.09 L671.38 768.64 L673.13 766.18 L674.87 763.71 L676.60 761.24 L678.33 758.76 L680.05 756.28 L681.76 753.79 L683.46 751.29 L685.15 748.79 L686.84 746.29 L688.52 743.78 L690.20 741.26 L691.87 738.74 L693.53 736.22 L695.18 733.69 L696.83 731.15 L698.47 728.62 L700.11 726.08 L701.74 723.53 L703.36 720.98 L704.98 718.43 L706.59 715.87 L708.19 713.32 L709.79 710.75 L711.39 708.19 L712.98 705.62 L714.56 703.05 L716.14 700.47 L717.71 697.90 L719.28 695.31 L720.84 692.73 L722.39 690.14 L723.94 687.55 L725.49 684.96 L727.03 682.36 L728.56 679.76 L730.09 677.16 L731.61 674.55 L733.13 671.95 L734.64 669.33 L736.14 666.72 L737.64 664.10 L739.14 661.48 L740.63 658.86 L742.11 656.23 L743.59 653.60 L745.07 650.97 L746.54 648.34 L748.00 645.70 L749.46 643.06 L750.91 640.42 L752.36 637.77 L753.80 635.12 L755.23 632.47 L756.67 629.82 L758.09 627.16 L759.51 624.50 L760.93 621.84 L762.34 619.18 L763.74 616.51 L765.14 613.84 L766.54 611.17 L767.93 608.49 L769.31 605.82 L770.69 603.14 L772.07 600.45 L773.43 597.77 L774.80 595.08 L776.16 592.39 L777.51 589.70 L778.86 587.01 L780.20 584.31 L781.54 581.61 L782.87 578.91 L784.20 576.20 L785.53 573.50 L786.85 570.79 L788.16 568.08 L789.47 565.37 L790.77 562.65 L792.07 559.93 L793.36 557.21 L794.65 554.49 L795.94 551.77 L797.21 549.04 L798.49 546.31 L799.76 543.58 L801.02 540.85 L802.28 538.12 L803.54 535.38 L804.79 532.64 L806.03 529.90 L807.27 527.16 L808.51 524.41 L809.74 521.67 L810.96 518.92 L812.19 516.17 L813.40 513.41 L814.61 510.66 L815.82 507.90 L817.03 505.14 L818.22 502.38 L819.42 499.62 L820.61 496.86 L821.79 494.09 L822.98 491.32 L824.15 488.55 L825.32 485.78 L826.49 483.01 L827.66 480.23 L828.81 477.45 L829.97 474.67 L831.12 471.89 L832.27 469.11 L833.41 466.32 L834.55 463.54 L835.68 460.75 L836.81 457.96 L837.93 455.17 L839.05 452.38 L840.17 449.58 L841.28 446.78 L842.39 443.98 L843.50 441.18 L844.60 438.38 L845.70 435.58 L846.79 432.77 L847.88 429.97 L848.96 427.16 L850.04 424.35 L851.12 421.54 L852.19 418.73 L853.26 415.91 L854.33 413.10 L855.39 410.28 L856.45 407.46 L857.50 404.64 L858.55 401.82 L859.60 398.99 L860.65 396.17 L861.68 393.34 L862.72 390.51 L863.75 387.68 L864.78 384.85 L865.81 382.02 L866.83 379.19 L867.85 376.35 L868.86 373.52 L869.87 370.68 L870.88 367.84 L871.88 365.00 L872.89 362.16 L873.88 359.31 L874.88 356.47 L875.87 353.62 L876.86 350.78 L877.84 347.93 L878.82 345.08 L879.80 342.23 L880.77 339.38 L881.74 336.52 L882.71 333.67 L883.68 330.81 L884.64 327.96 L885.60 325.10 L886.55 322.24 L887.50 319.38 L888.45 316.52 L889.40 313.66 L890.34 310.79 L891.28 307.93 L892.22 305.06 L893.15 302.20 L894.09 299.33 L895.01 296.46 L895.94 293.59 L896.86 290.72 L897.78 287.85 L898.70 284.98 L899.61 282.10 L900.53 279.23 L901.43 276.35 L902.34 273.48 L900.40 272.86 L899.49 275.74 L898.58 278.61 L897.67 281.49 L896.76 284.36 L895.84 287.23 L894.92 290.10 L894.00 292.97 L893.07 295.83 L892.14 298.70 L891.21 301.57 L890.28 304.43 L889.34 307.29 L888.40 310.16 L887.46 313.02 L886.51 315.88 L885.56 318.74 L884.61 321.59 L883.66 324.45 L882.70 327.31 L881.74 330.16 L880.77 333.01 L879.80 335.87 L878.83 338.72 L877.86 341.57 L876.88 344.41 L875.90 347.26 L874.92 350.11 L873.93 352.95 L872.94 355.79 L871.95 358.64 L870.95 361.48 L869.95 364.32 L868.95 367.15 L867.94 369.99 L866.93 372.82 L865.91 375.66 L864.90 378.49 L863.88 381.32 L862.85 384.15 L861.82 386.98 L860.79 389.81 L859.75 392.63 L858.72 395.46 L857.67 398.28 L856.63 401.10 L855.58 403.92 L854.52 406.74 L853.47 409.55 L852.40 412.37 L851.34 415.18 L850.27 417.99 L849.20 420.80 L848.12 423.61 L847.04 426.42 L845.96 429.22 L844.87 432.03 L843.78 434.83 L842.68 437.63 L841.58 440.43 L840.47 443.23 L839.37 446.02 L838.25 448.82 L837.14 451.61 L836.02 454.40 L834.89 457.19 L833.76 459.97 L832.63 462.76 L831.49 465.54 L830.35 468.32 L829.21 471.10 L828.06 473.88 L826.90 476.66 L825.75 479.43 L824.58 482.20 L823.42 484.97 L822.25 487.74 L821.07 490.51 L819.89 493.28 L818.70 496.04 L817.52 498.80 L816.32 501.56 L815.12 504.32 L813.92 507.07 L812.72 509.83 L811.50 512.58 L810.29 515.33 L809.07 518.07 L807.84 520.82 L806.61 523.56 L805.38 526.30 L804.14 529.04 L802.89 531.78 L801.64 534.52 L800.39 537.25 L799.13 539.98 L797.87 542.71 L796.60 545.44 L795.33 548.16 L794.05 550.88 L792.77 553.60 L791.48 556.32 L790.19 559.04 L788.89 561.75 L787.59 564.46 L786.28 567.17 L784.97 569.88 L783.65 572.58 L782.33 575.29 L781.00 577.99 L779.67 580.68 L778.33 583.38 L776.99 586.07 L775.64 588.76 L774.29 591.45 L772.93 594.14 L771.57 596.82 L770.20 599.50 L768.83 602.18 L767.45 604.86 L766.07 607.53 L764.68 610.20 L763.29 612.87 L761.89 615.54 L760.49 618.20 L759.08 620.86 L757.66 623.52 L756.25 626.17 L754.82 628.82 L753.39 631.47 L751.96 634.12 L750.52 636.77 L749.07 639.41 L747.62 642.05 L746.16 644.68 L744.70 647.32 L743.24 649.95 L741.76 652.58 L740.29 655.20 L738.80 657.82 L737.31 660.44 L735.82 663.06 L734.32 665.67 L732.82 668.28 L731.31 670.89 L729.79 673.50 L728.27 676.10 L726.75 678.70 L725.21 681.29 L723.68 683.88 L722.14 686.47 L720.59 689.06 L719.03 691.64 L717.47 694.22 L715.91 696.80 L714.34 699.37 L712.76 701.95 L711.18 704.51 L709.60 707.08 L708.00 709.64 L706.41 712.20 L704.80 714.75 L703.19 717.30 L701.58 719.85 L699.96 722.39 L698.33 724.94 L696.70 727.47 L695.06 730.00 L693.41 732.53 L691.76 735.06 L690.10 737.58 L688.44 740.09 L686.77 742.60 L685.09 745.11 L683.40 747.61 L681.71 750.10 L680.01 752.59 L678.30 755.08 L676.59 757.55 L674.87 760.03 L673.14 762.49 L671.40 764.95 L669.66 767.41 L667.90 769.86 L666.14 772.30 L664.37 774.73 L662.60 777.16 L660.81 779.58 L659.02 782.00 L657.21 784.41 L655.40 786.80 L653.58 789.20 L651.75 791.58 L649.92 793.96 L648.07 796.33 L646.21 798.69 L644.34 801.04 L642.47 803.38 L640.58 805.72 L638.69 808.05 L636.78 810.37 L634.87 812.67 L632.94 814.98 L631.01 817.27 L629.06 819.55 L627.11 821.82 L625.14 824.08 L623.16 826.33 L621.18 828.58 L619.18 830.81 L617.17 833.03 L615.15 835.25 L613.12 837.45 L611.08 839.64 L609.03 841.82 L606.96 844.00 L604.89 846.16 L602.81 848.31 L600.71 850.45 L598.61 852.58 L596.49 854.70 L594.36 856.80 L592.22 858.90 L590.07 860.99 L587.91 863.06 L585.74 865.13 L583.56 867.18 L581.37 869.22 L579.17 871.26 L576.96 873.28 L574.73 875.29 L572.50 877.29 L570.26 879.28 L568.00 881.25 L565.74 883.22 L563.47 885.18 L561.19 887.13 L558.89 889.06 L556.59 890.99 L554.28 892.90 L551.96 894.80 L549.63 896.70 L547.29 898.58 L544.95 900.45 L542.59 902.32 L540.22 904.17 L537.85 906.01 L535.47 907.84 L533.08 909.66 L530.68 911.47 L528.27 913.27 L525.85 915.06 L523.43 916.84 L520.99 918.61 L518.55 920.37 L516.10 922.12 L513.65 923.86 L511.18 925.59 L508.71 927.31 L506.23 929.02 L503.75 930.72 L501.25 932.41 L498.75 934.09 L496.24 935.76 L493.73 937.42 L491.21 939.07 L488.68 940.71 L486.14 942.34 L483.60 943.96 L481.05 945.57 L478.49 947.17 L475.93 948.76 L473.36 950.34 L470.79 951.91 L468.21 953.47 L465.62 955.02 L463.03 956.57 L460.43 958.10 L457.83 959.62 L455.22 961.14 L452.60 962.64 L449.98 964.14 L447.36 965.62 L444.72 967.10 L442.09 968.57 L439.45 970.02 L436.80 971.47 L434.15 972.91 L431.49 974.34 L428.83 975.76 L426.17 977.17 L423.50 978.57 L420.82 979.96 L418.15 981.35 L415.46 982.72 L412.77 984.08 L410.08 985.44 L407.39 986.78 L404.69 988.12 L401.98 989.45 L399.27 990.77 L396.56 992.07 L393.84 993.37 L391.12 994.66 L388.39 995.94 L385.66 997.21 L382.93 998.48 L380.19 999.73 L377.44 1000.97 L374.70 1002.21 L371.95 1003.43 L369.19 1004.65 L366.43 1005.85 L363.67 1007.05 L360.91 1008.24 L358.14 1009.41 L355.36 1010.58 L352.58 1011.74 L349.80 1012.89 L347.02 1014.03 L344.23 1015.16 L341.44 1016.28 L338.64 1017.39 L335.84 1018.50 L333.04 1019.59 L330.23 1020.67 L327.42 1021.75 L324.61 1022.81 L321.79 1023.87 L318.97 1024.92 L316.15 1025.95 L313.32 1026.98 L310.49 1028.00 L307.65 1029.01 L304.82 1030.01 L301.98 1031.00 L299.13 1031.98 L296.29 1032.95 L293.44 1033.91 L290.58 1034.86 L287.73 1035.80 L284.87 1036.73 L282.01 1037.66 L279.14 1038.57 L276.27 1039.48 L273.40 1040.37 L270.53 1041.26 L267.65 1042.13 L264.77 1043.00 L261.89 1043.86 L259.00 1044.70 L256.11 1045.54 L253.22 1046.37 L250.33 1047.19 L247.43 1048.00 L244.54 1048.80 L241.63 1049.59 L238.73 1050.37 L235.82 1051.14 L232.92 1051.90 L230.00 1052.65 L227.09 1053.40 L224.17 1054.13 L221.26 1054.85 L218.33 1055.57 L215.41 1056.27 L212.49 1056.97 L209.56 1057.65 L206.63 1058.33 L203.70 1059.00 L200.76 1059.65 L197.82 1060.30 L194.89 1060.94 L191.95 1061.57 L189.00 1062.18 L186.06 1062.79 L183.11 1063.39 L180.16 1063.98 L177.21 1064.56 L174.26 1065.13 L171.30 1065.69 L168.35 1066.24 L165.39 1066.78 L162.43 1067.32 L159.47 1067.84 L156.50 1068.35 L153.54 1068.85 L150.57 1069.35 L147.60 1069.83 L144.63 1070.31 L141.66 1070.77 L138.69 1071.22 L135.71 1071.67 L132.74 1072.10 L129.76 1072.53 L126.78 1072.95 L123.80 1073.35 L120.82 1073.75 L117.84 1074.14 L114.85 1074.51 L111.87 1074.88 L108.88 1075.24 L105.89 1075.59 L102.90 1075.93 L99.91 1076.25 L96.92 1076.57 L93.93 1076.88 L90.93 1077.18 L87.94 1077.47 L84.94 1077.75 L81.95 1078.02 L78.95 1078.28 L75.95 1078.54 L72.95 1078.78 L69.95 1079.01 L66.95 1079.23Z M67.10 1090.27 L70.11 1090.11 L73.11 1089.94 L76.12 1089.76 L79.12 1089.58 L82.13 1089.39 L85.13 1089.19 L88.14 1088.98 L91.14 1088.77 L94.14 1088.56 L97.15 1088.33 L100.15 1088.10 L103.15 1087.86 L106.15 1087.62 L109.15 1087.36 L112.15 1087.11 L115.15 1086.84 L118.15 1086.57 L121.15 1086.29 L124.15 1086.00 L127.14 1085.71 L130.14 1085.41 L133.14 1085.10 L136.13 1084.78 L139.13 1084.46 L142.12 1084.13 L145.11 1083.80 L148.10 1083.46 L151.09 1083.11 L154.08 1082.75 L157.07 1082.39 L160.06 1082.01 L163.05 1081.64 L166.04 1081.25 L169.02 1080.86 L172.01 1080.46 L174.99 1080.05 L177.97 1079.64 L180.96 1079.22 L183.94 1078.79 L186.92 1078.35 L189.89 1077.91 L192.87 1077.46 L195.85 1077.00 L198.82 1076.54 L201.80 1076.06 L204.77 1075.59 L207.74 1075.10 L210.71 1074.60 L213.68 1074.10 L216.65 1073.59 L219.62 1073.08 L222.58 1072.55 L225.55 1072.02 L228.51 1071.48 L231.47 1070.94 L234.43 1070.38 L237.39 1069.82 L240.35 1069.25 L243.30 1068.68 L246.26 1068.09 L249.21 1067.50 L252.16 1066.90 L255.11 1066.30 L258.06 1065.68 L261.01 1065.06 L263.95 1064.43 L266.90 1063.79 L269.84 1063.15 L272.78 1062.50 L275.72 1061.84 L278.66 1061.17 L281.59 1060.49 L284.53 1059.81 L287.46 1059.12 L290.39 1058.42 L293.32 1057.71 L296.25 1057.00 L299.17 1056.28 L302.09 1055.55 L305.02 1054.81 L307.93 1054.06 L310.85 1053.31 L313.77 1052.55 L316.68 1051.78 L319.59 1051.00 L322.50 1050.22 L325.41 1049.43 L328.32 1048.62 L331.22 1047.82 L334.12 1047.00 L337.02 1046.17 L339.92 1045.34 L342.82 1044.50 L345.71 1043.65 L348.60 1042.79 L351.49 1041.93 L354.38 1041.06 L357.26 1040.17 L360.15 1039.28 L363.03 1038.39 L365.91 1037.48 L368.78 1036.57 L371.66 1035.65 L374.53 1034.72 L377.40 1033.78 L380.26 1032.83 L383.13 1031.88 L385.99 1030.91 L388.85 1029.94 L391.71 1028.96 L394.56 1027.97 L397.41 1026.98 L400.26 1025.97 L403.11 1024.96 L405.95 1023.94 L408.80 1022.91 L411.64 1021.87 L414.47 1020.83 L417.31 1019.77 L420.14 1018.71 L422.97 1017.64 L425.79 1016.56 L428.62 1015.47 L431.44 1014.37 L434.26 1013.26 L437.07 1012.15 L439.89 1011.03 L442.70 1009.90 L445.50 1008.76 L448.31 1007.61 L451.10 1006.45 L453.90 1005.28 L456.69 1004.11 L459.48 1002.92 L462.27 1001.73 L465.05 1000.52 L467.83 999.31 L470.60 998.09 L473.37 996.86 L476.13 995.62 L478.89 994.37 L481.65 993.11 L484.40 991.84 L487.14 990.56 L489.89 989.27 L492.62 987.97 L495.35 986.66 L498.08 985.34 L500.80 984.01 L503.51 982.67 L506.22 981.32 L508.92 979.96 L511.62 978.59 L514.31 977.21 L517.00 975.82 L519.68 974.42 L522.35 973.01 L525.02 971.58 L527.68 970.15 L530.33 968.71 L532.98 967.25 L535.62 965.78 L538.25 964.31 L540.87 962.82 L543.49 961.32 L546.10 959.81 L548.71 958.29 L551.30 956.75 L553.89 955.21 L556.47 953.65 L559.05 952.08 L561.61 950.51 L564.17 948.91 L566.72 947.31 L569.26 945.70 L571.79 944.07 L574.31 942.43 L576.83 940.78 L579.33 939.12 L581.83 937.45 L584.32 935.76 L586.80 934.06 L589.27 932.35 L591.73 930.63 L594.18 928.89 L596.62 927.14 L599.05 925.38 L601.48 923.61 L603.89 921.82 L606.29 920.02 L608.68 918.21 L611.07 916.38 L613.44 914.55 L615.80 912.69 L618.15 910.83 L620.49 908.95 L622.82 907.06 L625.14 905.16 L627.44 903.24 L629.74 901.31 L632.02 899.37 L634.30 897.41 L636.56 895.44 L638.81 893.46 L641.06 891.46 L643.29 889.46 L645.51 887.44 L647.72 885.41 L649.92 883.37 L652.11 881.31 L654.28 879.25 L656.45 877.17 L658.61 875.08 L660.76 872.98 L662.90 870.87 L665.03 868.75 L667.15 866.62 L669.26 864.48 L671.36 862.32 L673.45 860.16 L675.53 857.99 L677.60 855.81 L679.66 853.62 L681.72 851.42 L683.76 849.21 L685.79 846.99 L687.82 844.76 L689.84 842.52 L691.84 840.28 L693.84 838.02 L695.83 835.76 L697.82 833.49 L699.79 831.21 L701.75 828.92 L703.71 826.63 L705.66 824.33 L707.60 822.02 L709.53 819.70 L711.46 817.38 L713.37 815.05 L715.28 812.71 L717.18 810.37 L719.07 808.02 L720.96 805.66 L722.84 803.29 L724.71 800.92 L726.57 798.55 L728.42 796.16 L730.27 793.78 L732.11 791.38 L733.95 788.98 L735.77 786.57 L737.59 784.16 L739.41 781.74 L741.21 779.32 L743.01 776.89 L744.81 774.46 L746.60 772.02 L748.38 769.58 L750.15 767.13 L751.92 764.68 L753.68 762.22 L755.44 759.76 L757.19 757.29 L758.93 754.82 L760.67 752.35 L762.41 749.87 L764.14 747.39 L765.86 744.90 L767.57 742.41 L769.29 739.92 L770.99 737.42 L772.69 734.92 L774.39 732.42 L776.08 729.91 L777.77 727.40 L779.45 724.88 L781.13 722.37 L782.80 719.85 L784.47 717.33 L786.13 714.80 L787.79 712.28 L789.44 709.75 L791.09 707.22 L792.74 704.69 L794.38 702.15 L796.02 699.61 L797.65 697.08 L799.28 694.54 L800.91 691.99 L802.53 689.45 L804.15 686.90 L805.76 684.35 L807.37 681.80 L808.98 679.25 L810.58 676.70 L812.18 674.14 L813.77 671.58 L815.36 669.02 L816.95 666.46 L818.53 663.90 L820.11 661.33 L821.68 658.76 L823.25 656.19 L824.81 653.62 L826.37 651.04 L827.92 648.46 L829.47 645.88 L831.02 643.30 L832.56 640.71 L834.09 638.13 L835.62 635.54 L837.15 632.94 L838.67 630.35 L840.19 627.75 L841.70 625.15 L843.21 622.55 L844.71 619.95 L846.21 617.34 L847.70 614.73 L849.19 612.12 L850.67 609.50 L852.15 606.88 L853.62 604.26 L855.09 601.64 L856.55 599.02 L858.01 596.39 L859.46 593.76 L860.91 591.12 L862.35 588.48 L863.79 585.84 L865.22 583.20 L866.64 580.55 L868.06 577.90 L869.48 575.25 L870.88 572.59 L872.28 569.93 L873.68 567.27 L875.07 564.61 L876.46 561.94 L877.83 559.26 L879.21 556.59 L880.57 553.91 L881.93 551.22 L883.29 548.54 L884.63 545.85 L885.98 543.15 L887.31 540.45 L888.64 537.75 L889.96 535.05 L891.28 532.34 L892.59 529.62 L893.89 526.90 L895.19 524.18 L896.48 521.46 L897.76 518.73 L899.03 515.99 L900.30 513.26 L901.56 510.51 L902.82 507.77 L904.07 505.02 L902.17 504.16 L900.93 506.91 L899.67 509.65 L898.41 512.38 L897.15 515.12 L895.87 517.84 L894.59 520.57 L893.30 523.29 L892.01 526.01 L890.71 528.72 L889.40 531.43 L888.09 534.13 L886.77 536.83 L885.44 539.53 L884.11 542.22 L882.77 544.91 L881.42 547.60 L880.07 550.28 L878.71 552.96 L877.35 555.64 L875.98 558.31 L874.60 560.98 L873.22 563.64 L871.83 566.30 L870.43 568.96 L869.03 571.62 L867.63 574.27 L866.21 576.92 L864.80 579.56 L863.37 582.20 L861.95 584.84 L860.51 587.48 L859.07 590.11 L857.63 592.74 L856.18 595.37 L854.72 598.00 L853.26 600.62 L851.79 603.24 L850.32 605.85 L848.85 608.47 L847.37 611.08 L845.88 613.69 L844.39 616.29 L842.89 618.90 L841.39 621.50 L839.88 624.10 L838.37 626.69 L836.86 629.29 L835.34 631.88 L833.81 634.47 L832.28 637.05 L830.75 639.64 L829.21 642.22 L827.67 644.80 L826.12 647.38 L824.57 649.95 L823.01 652.52 L821.45 655.09 L819.88 657.66 L818.31 660.23 L816.73 662.79 L815.16 665.35 L813.57 667.91 L811.98 670.47 L810.39 673.03 L808.80 675.58 L807.19 678.13 L805.59 680.68 L803.98 683.23 L802.37 685.77 L800.75 688.32 L799.13 690.86 L797.51 693.40 L795.88 695.93 L794.24 698.47 L792.61 701.00 L790.97 703.54 L789.32 706.07 L787.67 708.60 L786.02 711.12 L784.36 713.64 L782.70 716.16 L781.04 718.68 L779.37 721.20 L777.69 723.71 L776.01 726.22 L774.33 728.73 L772.64 731.23 L770.94 733.73 L769.25 736.23 L767.54 738.72 L765.83 741.21 L764.12 743.70 L762.40 746.18 L760.67 748.66 L758.94 751.13 L757.20 753.60 L755.46 756.07 L753.71 758.53 L751.96 760.99 L750.20 763.44 L748.44 765.89 L746.66 768.33 L744.89 770.77 L743.10 773.21 L741.31 775.63 L739.51 778.06 L737.71 780.47 L735.90 782.89 L734.08 785.29 L732.26 787.69 L730.43 790.09 L728.59 792.48 L726.75 794.86 L724.90 797.24 L723.04 799.61 L721.17 801.98 L719.30 804.33 L717.42 806.69 L715.53 809.03 L713.63 811.37 L711.73 813.70 L709.82 816.03 L707.90 818.34 L705.97 820.65 L704.04 822.96 L702.09 825.25 L700.14 827.54 L698.18 829.82 L696.21 832.09 L694.24 834.36 L692.25 836.61 L690.26 838.86 L688.25 841.10 L686.24 843.33 L684.22 845.55 L682.19 847.76 L680.16 849.97 L678.11 852.16 L676.05 854.35 L673.99 856.52 L671.91 858.69 L669.83 860.84 L667.74 862.99 L665.64 865.12 L663.52 867.25 L661.40 869.36 L659.27 871.46 L657.13 873.55 L654.98 875.64 L652.82 877.70 L650.65 879.76 L648.46 881.81 L646.27 883.85 L644.07 885.87 L641.86 887.88 L639.64 889.88 L637.40 891.87 L635.16 893.84 L632.91 895.80 L630.64 897.75 L628.37 899.69 L626.08 901.61 L623.78 903.52 L621.47 905.42 L619.15 907.30 L616.82 909.17 L614.48 911.03 L612.13 912.87 L609.77 914.70 L607.40 916.52 L605.02 918.33 L602.62 920.12 L600.22 921.90 L597.81 923.67 L595.38 925.42 L592.95 927.17 L590.51 928.90 L588.06 930.61 L585.60 932.32 L583.13 934.01 L580.65 935.69 L578.16 937.36 L575.67 939.02 L573.16 940.67 L570.64 942.30 L568.12 943.92 L565.59 945.53 L563.05 947.13 L560.50 948.71 L557.95 950.29 L555.38 951.85 L552.81 953.40 L550.23 954.94 L547.64 956.47 L545.05 957.99 L542.44 959.50 L539.83 960.99 L537.22 962.48 L534.59 963.95 L531.96 965.42 L529.32 966.87 L526.68 968.31 L524.03 969.74 L521.37 971.16 L518.70 972.57 L516.03 973.97 L513.35 975.35 L510.67 976.73 L507.98 978.10 L505.29 979.46 L502.58 980.80 L499.88 982.14 L497.17 983.47 L494.45 984.78 L491.72 986.09 L489.00 987.39 L486.26 988.67 L483.52 989.95 L480.78 991.22 L478.03 992.48 L475.28 993.72 L472.52 994.96 L469.76 996.19 L466.99 997.41 L464.22 998.62 L461.45 999.82 L458.67 1001.02 L455.89 1002.20 L453.10 1003.37 L450.31 1004.54 L447.52 1005.70 L444.72 1006.84 L441.92 1007.98 L439.12 1009.11 L436.31 1010.23 L433.50 1011.34 L430.69 1012.45 L427.87 1013.54 L425.06 1014.63 L422.24 1015.71 L419.41 1016.78 L416.59 1017.84 L413.76 1018.90 L410.93 1019.94 L408.09 1020.98 L405.26 1022.01 L402.42 1023.03 L399.58 1024.04 L396.73 1025.04 L393.89 1026.04 L391.04 1027.02 L388.19 1028.00 L385.33 1028.97 L382.48 1029.94 L379.62 1030.89 L376.76 1031.84 L373.89 1032.77 L371.03 1033.70 L368.16 1034.62 L365.29 1035.54 L362.42 1036.44 L359.54 1037.34 L356.67 1038.23 L353.79 1039.11 L350.91 1039.98 L348.02 1040.84 L345.14 1041.70 L342.25 1042.55 L339.36 1043.39 L336.47 1044.22 L333.57 1045.05 L330.67 1045.86 L327.78 1046.67 L324.88 1047.47 L321.97 1048.26 L319.07 1049.05 L316.16 1049.83 L313.25 1050.59 L310.34 1051.36 L307.43 1052.11 L304.52 1052.85 L301.60 1053.59 L298.68 1054.32 L295.76 1055.04 L292.84 1055.76 L289.92 1056.46 L286.99 1057.16 L284.07 1057.85 L281.14 1058.54 L278.21 1059.21 L275.28 1059.88 L272.34 1060.54 L269.41 1061.19 L266.47 1061.84 L263.53 1062.47 L260.59 1063.10 L257.65 1063.72 L254.71 1064.34 L251.76 1064.94 L248.82 1065.54 L245.87 1066.13 L242.92 1066.72 L239.97 1067.29 L237.02 1067.86 L234.06 1068.43 L231.11 1068.98 L228.15 1069.53 L225.19 1070.06 L222.23 1070.60 L219.27 1071.12 L216.31 1071.64 L213.35 1072.15 L210.39 1072.65 L207.42 1073.14 L204.45 1073.63 L201.49 1074.11 L198.52 1074.58 L195.55 1075.05 L192.57 1075.51 L189.60 1075.96 L186.63 1076.40 L183.65 1076.84 L180.68 1077.26 L177.70 1077.69 L174.72 1078.10 L171.74 1078.51 L168.76 1078.91 L165.78 1079.30 L162.80 1079.69 L159.82 1080.07 L156.83 1080.44 L153.85 1080.80 L150.86 1081.16 L147.88 1081.51 L144.89 1081.85 L141.90 1082.19 L138.91 1082.52 L135.92 1082.84 L132.93 1083.16 L129.94 1083.46 L126.95 1083.76 L123.96 1084.06 L120.97 1084.35 L117.97 1084.63 L114.98 1084.90 L111.98 1085.17 L108.99 1085.43 L105.99 1085.68 L102.99 1085.92 L100.00 1086.16 L97.00 1086.40 L94.00 1086.62 L91.00 1086.84 L88.00 1087.05 L85.00 1087.26 L82.00 1087.46 L79.00 1087.65 L76.00 1087.83 L73.00 1088.01 L70.00 1088.18 L67.00 1088.35Z M66.96 1098.89 L69.98 1098.96 L73.01 1099.02 L76.03 1099.07 L79.06 1099.12 L82.08 1099.15 L85.10 1099.18 L88.13 1099.21 L91.15 1099.23 L94.18 1099.23 L97.20 1099.24 L100.22 1099.23 L103.25 1099.22 L106.27 1099.21 L109.29 1099.18 L112.31 1099.15 L115.34 1099.11 L118.36 1099.07 L121.38 1099.01 L124.40 1098.95 L127.42 1098.89 L130.44 1098.81 L133.46 1098.73 L136.48 1098.65 L139.50 1098.55 L142.52 1098.45 L145.54 1098.34 L148.56 1098.22 L151.58 1098.10 L154.60 1097.97 L157.61 1097.83 L160.63 1097.69 L163.65 1097.54 L166.66 1097.38 L169.68 1097.22 L172.70 1097.04 L175.71 1096.86 L178.72 1096.68 L181.74 1096.48 L184.75 1096.28 L187.76 1096.08 L190.77 1095.86 L193.79 1095.64 L196.80 1095.41 L199.81 1095.18 L202.82 1094.93 L205.83 1094.68 L208.83 1094.43 L211.84 1094.16 L214.85 1093.89 L217.85 1093.62 L220.86 1093.33 L223.86 1093.04 L226.87 1092.74 L229.87 1092.43 L232.87 1092.12 L235.88 1091.80 L238.88 1091.47 L241.88 1091.14 L244.88 1090.80 L247.87 1090.45 L250.87 1090.10 L253.87 1089.73 L256.86 1089.36 L259.86 1088.99 L262.85 1088.60 L265.85 1088.21 L268.84 1087.82 L271.83 1087.41 L274.82 1087.00 L277.81 1086.58 L280.80 1086.16 L283.79 1085.72 L286.77 1085.28 L289.76 1084.84 L292.74 1084.38 L295.73 1083.92 L298.71 1083.46 L301.69 1082.98 L304.67 1082.50 L307.65 1082.01 L310.63 1081.51 L313.60 1081.01 L316.58 1080.50 L319.55 1079.99 L322.53 1079.46 L325.50 1078.93 L328.47 1078.39 L331.44 1077.85 L334.41 1077.30 L337.38 1076.74 L340.34 1076.17 L343.31 1075.60 L346.27 1075.02 L349.24 1074.43 L352.20 1073.84 L355.16 1073.23 L358.11 1072.63 L361.07 1072.01 L364.03 1071.39 L366.98 1070.76 L369.94 1070.12 L372.89 1069.48 L375.84 1068.83 L378.79 1068.17 L381.73 1067.51 L384.68 1066.84 L387.62 1066.16 L390.57 1065.47 L393.51 1064.78 L396.45 1064.08 L399.39 1063.37 L402.33 1062.66 L405.26 1061.94 L408.20 1061.21 L411.13 1060.48 L414.06 1059.74 L416.99 1058.99 L419.92 1058.23 L422.84 1057.47 L425.77 1056.70 L428.69 1055.92 L431.61 1055.14 L434.53 1054.35 L437.45 1053.55 L440.36 1052.75 L443.28 1051.93 L446.19 1051.11 L449.10 1050.29 L452.01 1049.45 L454.92 1048.61 L457.82 1047.76 L460.72 1046.91 L463.62 1046.05 L466.52 1045.17 L469.42 1044.30 L472.31 1043.41 L475.20 1042.52 L478.09 1041.62 L480.98 1040.71 L483.86 1039.79 L486.74 1038.87 L489.62 1037.94 L492.50 1037.00 L495.37 1036.05 L498.24 1035.09 L501.11 1034.13 L503.97 1033.16 L506.83 1032.18 L509.69 1031.19 L512.55 1030.19 L515.40 1029.19 L518.25 1028.18 L521.10 1027.16 L523.94 1026.13 L526.78 1025.09 L529.62 1024.05 L532.45 1022.99 L535.28 1021.93 L538.11 1020.86 L540.93 1019.78 L543.75 1018.69 L546.57 1017.60 L549.38 1016.49 L552.19 1015.38 L554.99 1014.25 L557.79 1013.12 L560.59 1011.98 L563.38 1010.83 L566.17 1009.68 L568.96 1008.51 L571.74 1007.33 L574.51 1006.15 L577.29 1004.95 L580.06 1003.75 L582.82 1002.54 L585.58 1001.32 L588.34 1000.09 L591.09 998.85 L593.83 997.60 L596.57 996.34 L599.31 995.07 L602.05 993.80 L604.77 992.51 L607.50 991.21 L610.22 989.91 L612.93 988.59 L615.64 987.27 L618.34 985.93 L621.04 984.59 L623.74 983.23 L626.42 981.87 L629.11 980.50 L631.79 979.11 L634.46 977.72 L637.13 976.32 L639.79 974.90 L642.45 973.48 L645.10 972.05 L647.75 970.60 L650.39 969.15 L653.02 967.68 L655.65 966.21 L658.28 964.73 L660.90 963.23 L663.51 961.73 L666.11 960.21 L668.72 958.68 L671.31 957.15 L673.90 955.60 L676.48 954.04 L679.06 952.48 L681.63 950.90 L684.19 949.31 L686.75 947.71 L689.30 946.10 L691.85 944.47 L694.39 942.84 L696.92 941.20 L699.45 939.54 L701.97 937.88 L704.48 936.20 L706.99 934.51 L709.49 932.82 L711.98 931.11 L714.47 929.39 L716.94 927.66 L719.42 925.91 L721.88 924.16 L724.34 922.40 L726.79 920.63 L729.24 918.84 L731.68 917.05 L734.11 915.25 L736.53 913.43 L738.95 911.61 L741.36 909.78 L743.77 907.93 L746.16 906.08 L748.55 904.22 L750.94 902.34 L753.31 900.46 L755.68 898.57 L758.04 896.67 L760.40 894.76 L762.75 892.84 L765.09 890.91 L767.42 888.98 L769.75 887.03 L772.06 885.08 L774.38 883.11 L776.68 881.14 L778.98 879.16 L781.27 877.17 L783.55 875.17 L785.83 873.17 L788.10 871.16 L790.36 869.13 L792.61 867.10 L794.86 865.06 L797.10 863.02 L799.33 860.96 L801.55 858.90 L803.77 856.83 L805.98 854.76 L808.18 852.67 L810.37 850.58 L812.56 848.48 L814.74 846.38 L816.91 844.26 L819.08 842.14 L821.23 840.01 L823.38 837.88 L825.53 835.74 L827.66 833.59 L829.79 831.43 L831.91 829.27 L834.02 827.11 L836.12 824.93 L838.22 822.75 L840.30 820.56 L842.38 818.37 L844.46 816.17 L846.52 813.97 L848.58 811.76 L850.63 809.54 L852.67 807.32 L854.70 805.09 L856.73 802.85 L858.75 800.61 L860.76 798.37 L862.76 796.12 L864.75 793.86 L866.74 791.60 L868.71 789.33 L870.67 787.05 L872.62 784.76 L874.56 782.46 L876.48 780.14 L878.38 777.82 L880.26 775.47 L882.13 773.12 L883.97 770.74 L885.79 768.35 L887.58 765.94 L889.35 763.51 L891.10 761.06 L892.81 758.59 L894.50 756.09 L896.15 753.57 L897.77 751.03 L899.36 748.45 L900.91 745.85 L902.43 743.23 L903.91 740.57 L902.07 739.56 L900.60 742.19 L899.10 744.79 L897.56 747.36 L895.99 749.90 L894.38 752.42 L892.74 754.92 L891.07 757.39 L889.37 759.84 L887.64 762.27 L885.88 764.68 L884.10 767.08 L882.29 769.45 L880.46 771.81 L878.60 774.15 L876.73 776.48 L874.84 778.79 L872.93 781.10 L871.00 783.39 L869.06 785.67 L867.10 787.94 L865.14 790.20 L863.16 792.46 L861.17 794.71 L859.17 796.95 L857.16 799.19 L855.15 801.43 L853.13 803.66 L851.10 805.88 L849.06 808.10 L847.02 810.31 L844.97 812.51 L842.91 814.72 L840.84 816.91 L838.76 819.10 L836.68 821.28 L834.59 823.45 L832.49 825.62 L830.38 827.79 L828.27 829.94 L826.15 832.09 L824.02 834.24 L821.88 836.37 L819.74 838.50 L817.59 840.62 L815.43 842.74 L813.26 844.85 L811.09 846.95 L808.90 849.04 L806.71 851.13 L804.52 853.21 L802.31 855.28 L800.10 857.35 L797.88 859.40 L795.66 861.45 L793.43 863.49 L791.18 865.53 L788.94 867.55 L786.68 869.57 L784.42 871.58 L782.15 873.58 L779.87 875.57 L777.59 877.55 L775.30 879.53 L773.00 881.50 L770.69 883.45 L768.38 885.40 L766.06 887.35 L763.73 889.28 L761.40 891.20 L759.06 893.11 L756.71 895.02 L754.35 896.91 L751.99 898.80 L749.62 900.68 L747.25 902.55 L744.86 904.40 L742.47 906.25 L740.08 908.09 L737.67 909.92 L735.26 911.74 L732.84 913.55 L730.42 915.35 L727.99 917.13 L725.55 918.91 L723.11 920.68 L720.65 922.44 L718.20 924.19 L715.73 925.92 L713.26 927.65 L710.78 929.36 L708.29 931.07 L705.80 932.76 L703.30 934.45 L700.80 936.12 L698.29 937.78 L695.77 939.43 L693.24 941.07 L690.71 942.70 L688.17 944.31 L685.63 945.92 L683.08 947.52 L680.52 949.10 L677.96 950.68 L675.39 952.24 L672.82 953.80 L670.23 955.34 L667.65 956.87 L665.05 958.40 L662.46 959.91 L659.85 961.41 L657.24 962.90 L654.62 964.38 L652.00 965.85 L649.37 967.31 L646.74 968.76 L644.10 970.20 L641.46 971.64 L638.81 973.06 L636.15 974.47 L633.49 975.87 L630.82 977.26 L628.15 978.64 L625.48 980.01 L622.79 981.37 L620.11 982.72 L617.42 984.06 L614.72 985.40 L612.02 986.72 L609.31 988.03 L606.60 989.33 L603.88 990.63 L601.16 991.91 L598.43 993.19 L595.70 994.45 L592.97 995.71 L590.23 996.96 L587.48 998.19 L584.74 999.42 L581.98 1000.64 L579.23 1001.85 L576.46 1003.05 L573.70 1004.24 L570.93 1005.43 L568.15 1006.60 L565.37 1007.77 L562.59 1008.92 L559.81 1010.07 L557.02 1011.21 L554.22 1012.34 L551.42 1013.46 L548.62 1014.57 L545.81 1015.67 L543.01 1016.77 L540.19 1017.86 L537.38 1018.93 L534.56 1020.00 L531.73 1021.06 L528.90 1022.12 L526.07 1023.16 L523.24 1024.20 L520.40 1025.22 L517.56 1026.24 L514.72 1027.26 L511.87 1028.26 L509.02 1029.25 L506.17 1030.24 L503.31 1031.22 L500.45 1032.19 L497.59 1033.15 L494.73 1034.11 L491.86 1035.05 L488.99 1035.99 L486.12 1036.92 L483.24 1037.85 L480.36 1038.76 L477.48 1039.67 L474.60 1040.57 L471.71 1041.46 L468.82 1042.35 L465.93 1043.23 L463.04 1044.10 L460.15 1044.96 L457.25 1045.81 L454.35 1046.66 L451.45 1047.50 L448.54 1048.34 L445.64 1049.16 L442.73 1049.98 L439.82 1050.79 L436.91 1051.60 L434.00 1052.39 L431.08 1053.18 L428.17 1053.97 L425.25 1054.74 L422.33 1055.51 L419.41 1056.28 L416.49 1057.03 L413.56 1057.78 L410.63 1058.52 L407.71 1059.26 L404.78 1059.98 L401.85 1060.70 L398.92 1061.42 L395.98 1062.12 L393.05 1062.82 L390.11 1063.51 L387.17 1064.20 L384.23 1064.88 L381.29 1065.55 L378.35 1066.21 L375.40 1066.87 L372.46 1067.52 L369.51 1068.16 L366.56 1068.80 L363.61 1069.43 L360.66 1070.05 L357.71 1070.67 L354.76 1071.28 L351.80 1071.88 L348.84 1072.47 L345.89 1073.06 L342.93 1073.64 L339.97 1074.21 L337.01 1074.78 L334.04 1075.34 L331.08 1075.89 L328.11 1076.44 L325.15 1076.97 L322.18 1077.50 L319.21 1078.03 L316.24 1078.55 L313.27 1079.06 L310.30 1079.56 L307.33 1080.05 L304.35 1080.54 L301.38 1081.03 L298.40 1081.50 L295.42 1081.97 L292.44 1082.43 L289.46 1082.88 L286.48 1083.33 L283.50 1083.77 L280.52 1084.20 L277.53 1084.63 L274.55 1085.05 L271.56 1085.46 L268.58 1085.87 L265.59 1086.26 L262.60 1086.65 L259.61 1087.04 L256.62 1087.42 L253.63 1087.78 L250.64 1088.15 L247.65 1088.50 L244.65 1088.85 L241.66 1089.19 L238.66 1089.53 L235.67 1089.86 L232.67 1090.18 L229.67 1090.49 L226.67 1090.80 L223.67 1091.10 L220.67 1091.39 L217.67 1091.68 L214.67 1091.95 L211.67 1092.23 L208.67 1092.49 L205.66 1092.75 L202.66 1093.00 L199.65 1093.24 L196.65 1093.48 L193.64 1093.71 L190.63 1093.93 L187.63 1094.14 L184.62 1094.35 L181.61 1094.55 L178.60 1094.75 L175.59 1094.94 L172.58 1095.12 L169.57 1095.29 L166.56 1095.46 L163.55 1095.61 L160.54 1095.77 L157.52 1095.91 L154.51 1096.05 L151.50 1096.18 L148.48 1096.30 L145.47 1096.42 L142.46 1096.53 L139.44 1096.63 L136.43 1096.73 L133.41 1096.82 L130.39 1096.90 L127.38 1096.98 L124.36 1097.04 L121.34 1097.10 L118.33 1097.16 L115.31 1097.20 L112.29 1097.24 L109.27 1097.28 L106.26 1097.30 L103.24 1097.32 L100.22 1097.33 L97.20 1097.34 L94.18 1097.33 L91.16 1097.32 L88.14 1097.30 L85.12 1097.28 L82.10 1097.25 L79.08 1097.21 L76.06 1097.16 L73.04 1097.11 L70.02 1097.05 L67.00 1096.98Z M272.88 1093.52 L275.88 1093.36 L278.87 1093.18 L281.87 1093.00 L284.87 1092.81 L287.87 1092.61 L290.86 1092.40 L293.86 1092.18 L296.86 1091.96 L299.86 1091.73 L302.85 1091.49 L305.85 1091.24 L308.85 1090.99 L311.85 1090.72 L314.84 1090.45 L317.84 1090.17 L320.84 1089.88 L323.83 1089.58 L326.83 1089.28 L329.83 1088.97 L332.82 1088.65 L335.82 1088.32 L338.81 1087.98 L341.81 1087.64 L344.80 1087.28 L347.79 1086.92 L350.79 1086.55 L353.78 1086.17 L356.77 1085.79 L359.76 1085.39 L362.75 1084.99 L365.74 1084.58 L368.73 1084.16 L371.72 1083.74 L374.71 1083.30 L377.69 1082.86 L380.68 1082.41 L383.66 1081.95 L386.65 1081.48 L389.63 1081.00 L392.61 1080.52 L395.59 1080.03 L398.57 1079.53 L401.55 1079.02 L404.53 1078.50 L407.51 1077.98 L410.48 1077.44 L413.46 1076.90 L416.43 1076.35 L419.40 1075.80 L422.37 1075.23 L425.34 1074.66 L428.31 1074.07 L431.27 1073.48 L434.24 1072.88 L437.20 1072.28 L440.16 1071.66 L443.12 1071.04 L446.08 1070.40 L449.03 1069.76 L451.99 1069.11 L454.94 1068.46 L457.89 1067.79 L460.84 1067.12 L463.79 1066.44 L466.74 1065.75 L469.68 1065.05 L472.62 1064.34 L475.56 1063.63 L478.50 1062.90 L481.44 1062.17 L484.37 1061.43 L487.30 1060.68 L490.23 1059.93 L493.16 1059.16 L496.09 1058.39 L499.01 1057.61 L501.93 1056.82 L504.85 1056.02 L507.77 1055.21 L510.68 1054.40 L513.59 1053.57 L516.50 1052.74 L519.41 1051.90 L522.31 1051.05 L525.22 1050.20 L528.12 1049.33 L531.01 1048.46 L533.91 1047.58 L536.80 1046.69 L539.69 1045.79 L542.57 1044.88 L545.46 1043.97 L548.34 1043.04 L551.22 1042.11 L554.09 1041.17 L556.96 1040.22 L559.83 1039.26 L562.70 1038.30 L565.56 1037.32 L568.42 1036.34 L571.28 1035.35 L574.13 1034.35 L576.98 1033.34 L579.83 1032.32 L582.68 1031.30 L585.52 1030.26 L588.36 1029.22 L591.19 1028.17 L594.02 1027.11 L596.85 1026.04 L599.68 1024.97 L602.50 1023.88 L605.32 1022.79 L608.13 1021.69 L610.94 1020.58 L613.75 1019.46 L616.55 1018.33 L619.35 1017.20 L622.15 1016.06 L624.94 1014.90 L627.73 1013.74 L630.52 1012.57 L633.30 1011.40 L636.08 1010.21 L638.85 1009.01 L641.62 1007.81 L644.39 1006.60 L647.15 1005.38 L649.91 1004.15 L652.66 1002.91 L655.41 1001.66 L658.16 1000.41 L660.90 999.15 L663.64 997.87 L666.37 996.59 L669.10 995.30 L671.83 994.01 L674.55 992.70 L677.27 991.39 L679.98 990.06 L682.69 988.73 L685.39 987.39 L688.09 986.04 L690.78 984.68 L693.47 983.32 L696.16 981.94 L698.84 980.56 L701.51 979.16 L704.19 977.76 L706.85 976.35 L709.51 974.94 L712.17 973.51 L714.82 972.07 L717.47 970.63 L720.12 969.18 L722.75 967.71 L725.39 966.24 L728.01 964.77 L730.64 963.28 L733.26 961.78 L735.87 960.28 L738.48 958.76 L741.08 957.24 L743.68 955.71 L746.27 954.17 L748.86 952.62 L751.44 951.07 L754.01 949.50 L756.59 947.93 L759.15 946.34 L761.71 944.75 L764.27 943.15 L766.82 941.54 L769.36 939.92 L771.90 938.30 L774.43 936.66 L776.96 935.02 L779.48 933.36 L782.00 931.70 L784.51 930.03 L787.01 928.35 L789.51 926.66 L792.01 924.97 L794.49 923.26 L796.97 921.55 L799.45 919.82 L801.92 918.09 L804.38 916.35 L806.84 914.60 L809.29 912.84 L811.74 911.08 L814.18 909.30 L816.61 907.52 L819.04 905.72 L821.46 903.92 L823.87 902.11 L826.28 900.29 L828.68 898.46 L831.08 896.62 L833.47 894.78 L835.85 892.92 L838.23 891.06 L840.60 889.19 L842.96 887.30 L845.32 885.41 L847.67 883.51 L850.01 881.61 L852.35 879.69 L854.68 877.76 L857.01 875.83 L859.32 873.88 L861.63 871.93 L863.94 869.97 L866.23 868.00 L868.52 866.02 L870.81 864.03 L873.08 862.03 L875.35 860.03 L877.61 858.01 L879.87 855.99 L882.12 853.96 L884.36 851.92 L886.59 849.87 L888.82 847.81 L891.04 845.74 L893.25 843.66 L895.45 841.57 L897.65 839.48 L899.84 837.37 L902.02 835.26 L904.20 833.14 L902.71 831.62 L900.54 833.74 L898.36 835.84 L896.18 837.94 L893.99 840.03 L891.79 842.11 L889.58 844.18 L887.37 846.25 L885.15 848.30 L882.92 850.35 L880.69 852.38 L878.45 854.41 L876.20 856.43 L873.94 858.44 L871.68 860.44 L869.41 862.43 L867.13 864.41 L864.85 866.39 L862.56 868.35 L860.26 870.31 L857.95 872.26 L855.64 874.20 L853.33 876.13 L851.00 878.05 L848.67 879.96 L846.33 881.86 L843.99 883.76 L841.64 885.65 L839.28 887.52 L836.92 889.39 L834.55 891.25 L832.17 893.10 L829.79 894.94 L827.40 896.78 L825.00 898.60 L822.60 900.42 L820.19 902.22 L817.78 904.02 L815.35 905.81 L812.93 907.59 L810.49 909.36 L808.06 911.13 L805.61 912.88 L803.16 914.62 L800.70 916.36 L798.24 918.09 L795.77 919.81 L793.29 921.52 L790.81 923.22 L788.33 924.91 L785.83 926.60 L783.34 928.27 L780.83 929.94 L778.32 931.60 L775.81 933.25 L773.29 934.89 L770.76 936.52 L768.23 938.14 L765.69 939.76 L763.15 941.36 L760.60 942.96 L758.04 944.55 L755.48 946.13 L752.92 947.70 L750.35 949.26 L747.77 950.82 L745.19 952.36 L742.61 953.90 L740.01 955.43 L737.42 956.95 L734.82 958.46 L732.21 959.96 L729.60 961.45 L726.98 962.94 L724.36 964.41 L721.73 965.88 L719.10 967.34 L716.47 968.79 L713.82 970.23 L711.18 971.66 L708.53 973.09 L705.87 974.50 L703.21 975.91 L700.55 977.31 L697.88 978.70 L695.20 980.08 L692.52 981.45 L689.84 982.82 L687.15 984.17 L684.46 985.52 L681.76 986.86 L679.06 988.19 L676.35 989.51 L673.64 990.82 L670.93 992.13 L668.21 993.42 L665.49 994.71 L662.76 995.99 L660.03 997.26 L657.29 998.52 L654.55 999.77 L651.81 1001.02 L649.06 1002.25 L646.31 1003.48 L643.55 1004.70 L640.79 1005.91 L638.03 1007.11 L635.26 1008.30 L632.49 1009.49 L629.71 1010.67 L626.93 1011.83 L624.15 1012.99 L621.36 1014.14 L618.57 1015.29 L615.78 1016.42 L612.98 1017.54 L610.18 1018.66 L607.38 1019.77 L604.57 1020.87 L601.76 1021.96 L598.94 1023.04 L596.12 1024.12 L593.30 1025.19 L590.47 1026.24 L587.65 1027.29 L584.81 1028.33 L581.98 1029.37 L579.14 1030.39 L576.30 1031.40 L573.45 1032.41 L570.60 1033.41 L567.75 1034.40 L564.90 1035.38 L562.04 1036.36 L559.18 1037.32 L556.32 1038.28 L553.45 1039.23 L550.58 1040.17 L547.71 1041.10 L544.84 1042.02 L541.96 1042.94 L539.08 1043.84 L536.20 1044.74 L533.31 1045.63 L530.42 1046.51 L527.53 1047.38 L524.64 1048.25 L521.74 1049.10 L518.84 1049.95 L515.94 1050.79 L513.04 1051.62 L510.13 1052.45 L507.22 1053.26 L504.31 1054.07 L501.40 1054.86 L498.48 1055.65 L495.57 1056.43 L492.65 1057.21 L489.73 1057.97 L486.80 1058.73 L483.88 1059.48 L480.95 1060.22 L478.02 1060.95 L475.08 1061.67 L472.15 1062.38 L469.21 1063.09 L466.28 1063.79 L463.33 1064.48 L460.39 1065.16 L457.45 1065.83 L454.50 1066.50 L451.56 1067.16 L448.61 1067.81 L445.66 1068.45 L442.70 1069.08 L439.75 1069.70 L436.79 1070.32 L433.84 1070.92 L430.88 1071.52 L427.92 1072.11 L424.96 1072.70 L421.99 1073.27 L419.03 1073.84 L416.06 1074.40 L413.10 1074.95 L410.13 1075.49 L407.16 1076.02 L404.19 1076.55 L401.22 1077.06 L398.24 1077.57 L395.27 1078.07 L392.29 1078.56 L389.32 1079.05 L386.34 1079.53 L383.36 1079.99 L380.38 1080.45 L377.40 1080.90 L374.42 1081.35 L371.44 1081.78 L368.46 1082.21 L365.47 1082.63 L362.49 1083.04 L359.50 1083.44 L356.52 1083.84 L353.53 1084.22 L350.54 1084.60 L347.56 1084.97 L344.57 1085.33 L341.58 1085.69 L338.59 1086.03 L335.60 1086.37 L332.61 1086.70 L329.62 1087.02 L326.63 1087.34 L323.64 1087.64 L320.65 1087.94 L317.66 1088.23 L314.66 1088.51 L311.67 1088.78 L308.68 1089.05 L305.69 1089.30 L302.70 1089.55 L299.70 1089.79 L296.71 1090.03 L293.72 1090.25 L290.73 1090.47 L287.73 1090.68 L284.74 1090.88 L281.75 1091.07 L278.76 1091.25 L275.77 1091.43 L272.78 1091.60Z M67.24 1114.23 L70.24 1114.18 L73.24 1114.13 L76.24 1114.07 L79.24 1114.02 L82.24 1113.96 L85.24 1113.90 L88.24 1113.84 L91.25 1113.77 L94.25 1113.71 L97.25 1113.64 L100.26 1113.57 L103.26 1113.50 L106.27 1113.43 L109.27 1113.36 L112.28 1113.28 L115.29 1113.20 L118.29 1113.12 L121.30 1113.04 L124.31 1112.96 L127.32 1112.87 L130.33 1112.78 L133.34 1112.69 L136.35 1112.60 L139.36 1112.50 L142.37 1112.41 L145.38 1112.31 L148.39 1112.21 L151.40 1112.11 L154.42 1112.00 L157.43 1111.89 L160.44 1111.79 L163.46 1111.67 L166.47 1111.56 L169.48 1111.44 L172.50 1111.33 L175.51 1111.20 L178.53 1111.08 L181.54 1110.96 L184.56 1110.83 L187.57 1110.70 L190.59 1110.57 L193.61 1110.43 L196.62 1110.29 L199.64 1110.15 L202.66 1110.01 L205.67 1109.86 L208.69 1109.72 L211.71 1109.57 L214.73 1109.41 L217.74 1109.26 L220.76 1109.10 L223.78 1108.94 L226.80 1108.78 L229.82 1108.61 L232.83 1108.44 L235.85 1108.27 L238.87 1108.10 L241.89 1107.92 L244.91 1107.74 L247.93 1107.56 L250.94 1107.37 L253.96 1107.18 L256.98 1106.99 L260.00 1106.80 L263.02 1106.60 L266.04 1106.40 L269.06 1106.20 L272.07 1105.99 L275.09 1105.78 L278.11 1105.57 L281.13 1105.36 L284.15 1105.14 L287.17 1104.92 L290.18 1104.69 L293.20 1104.47 L296.22 1104.24 L299.24 1104.00 L302.25 1103.77 L305.27 1103.53 L308.29 1103.29 L311.31 1103.04 L314.32 1102.79 L317.34 1102.54 L320.35 1102.28 L323.37 1102.02 L326.39 1101.76 L329.40 1101.49 L332.42 1101.22 L335.43 1100.95 L338.45 1100.68 L341.46 1100.40 L344.48 1100.11 L347.49 1099.83 L350.50 1099.54 L353.52 1099.24 L356.53 1098.95 L359.54 1098.65 L362.55 1098.34 L365.57 1098.03 L368.58 1097.72 L371.59 1097.41 L374.60 1097.09 L377.61 1096.77 L380.62 1096.44 L383.63 1096.11 L386.64 1095.78 L389.64 1095.44 L392.65 1095.10 L395.66 1094.76 L398.67 1094.41 L401.67 1094.06 L404.68 1093.70 L407.68 1093.34 L410.69 1092.98 L413.69 1092.61 L416.70 1092.24 L419.70 1091.86 L422.70 1091.48 L425.71 1091.10 L428.71 1090.71 L431.71 1090.32 L434.71 1089.92 L437.71 1089.52 L440.71 1089.12 L443.70 1088.71 L446.70 1088.30 L449.70 1087.88 L452.70 1087.46 L455.69 1087.04 L458.69 1086.61 L461.68 1086.17 L464.67 1085.74 L467.67 1085.30 L470.66 1084.85 L473.65 1084.40 L476.64 1083.95 L479.63 1083.49 L482.62 1083.02 L485.61 1082.56 L488.59 1082.08 L491.58 1081.61 L494.57 1081.13 L497.55 1080.64 L500.53 1080.15 L503.52 1079.66 L506.50 1079.16 L509.48 1078.65 L512.46 1078.15 L515.44 1077.63 L518.42 1077.12 L521.40 1076.59 L524.37 1076.07 L527.35 1075.54 L530.32 1075.00 L533.30 1074.46 L536.27 1073.91 L539.24 1073.36 L542.21 1072.81 L545.18 1072.25 L548.15 1071.69 L551.12 1071.12 L554.09 1070.54 L557.05 1069.96 L560.02 1069.38 L562.98 1068.79 L565.94 1068.20 L568.90 1067.60 L571.86 1066.99 L574.82 1066.39 L577.78 1065.77 L580.74 1065.15 L583.69 1064.53 L586.65 1063.90 L589.60 1063.27 L592.55 1062.63 L595.50 1061.98 L598.45 1061.33 L601.40 1060.68 L604.35 1060.02 L607.30 1059.35 L610.24 1058.68 L613.19 1058.01 L616.13 1057.33 L619.07 1056.64 L622.01 1055.95 L624.95 1055.25 L627.88 1054.55 L630.82 1053.84 L633.75 1053.13 L636.69 1052.41 L639.62 1051.69 L642.55 1050.96 L645.48 1050.23 L648.41 1049.49 L651.33 1048.74 L654.26 1047.99 L657.18 1047.23 L660.10 1046.47 L663.03 1045.70 L665.94 1044.93 L668.86 1044.15 L671.78 1043.36 L674.69 1042.57 L677.61 1041.78 L680.52 1040.98 L683.43 1040.17 L686.34 1039.35 L689.24 1038.54 L692.15 1037.71 L695.05 1036.88 L697.96 1036.04 L700.86 1035.20 L703.76 1034.35 L706.66 1033.50 L709.55 1032.64 L712.45 1031.77 L715.34 1030.90 L718.23 1030.02 L721.12 1029.13 L724.01 1028.24 L726.89 1027.34 L729.77 1026.43 L732.65 1025.52 L735.53 1024.60 L738.41 1023.67 L741.28 1022.73 L744.15 1021.79 L747.01 1020.83 L749.88 1019.87 L752.74 1018.90 L755.60 1017.92 L758.45 1016.93 L761.30 1015.94 L764.15 1014.93 L766.99 1013.92 L769.83 1012.89 L772.67 1011.86 L775.50 1010.81 L778.33 1009.76 L781.16 1008.69 L783.98 1007.62 L786.79 1006.53 L789.61 1005.44 L792.41 1004.33 L795.22 1003.21 L798.01 1002.08 L800.81 1000.94 L803.60 999.79 L806.38 998.63 L809.16 997.45 L811.93 996.27 L814.70 995.07 L817.47 993.85 L820.22 992.63 L822.98 991.39 L825.72 990.14 L828.47 988.88 L831.20 987.60 L833.93 986.31 L836.65 985.01 L839.37 983.69 L842.08 982.36 L844.79 981.02 L847.49 979.66 L850.18 978.29 L852.86 976.90 L855.54 975.50 L858.21 974.08 L860.88 972.65 L863.54 971.20 L866.19 969.74 L868.83 968.26 L871.47 966.76 L874.10 965.25 L876.72 963.73 L879.34 962.19 L881.94 960.63 L884.54 959.05 L887.13 957.46 L889.72 955.85 L892.29 954.23 L894.86 952.58 L897.42 950.92 L899.97 949.24 L902.51 947.55 L905.04 945.84 L903.85 944.09 L901.33 945.80 L898.80 947.48 L896.26 949.16 L893.71 950.81 L891.16 952.45 L888.59 954.07 L886.02 955.67 L883.44 957.25 L880.86 958.82 L878.26 960.38 L875.66 961.91 L873.05 963.44 L870.43 964.94 L867.80 966.43 L865.17 967.90 L862.53 969.36 L859.88 970.80 L857.23 972.23 L854.57 973.65 L851.90 975.04 L849.22 976.43 L846.54 977.80 L843.85 979.15 L841.16 980.49 L838.46 981.82 L835.75 983.13 L833.04 984.43 L830.32 985.72 L827.59 986.99 L824.86 988.25 L822.12 989.50 L819.38 990.73 L816.63 991.96 L813.87 993.17 L811.11 994.36 L808.35 995.55 L805.58 996.72 L802.80 997.88 L800.02 999.03 L797.24 1000.17 L794.45 1001.30 L791.65 1002.41 L788.85 1003.52 L786.05 1004.61 L783.24 1005.70 L780.43 1006.77 L777.61 1007.83 L774.79 1008.88 L771.96 1009.93 L769.13 1010.96 L766.30 1011.98 L763.46 1013.00 L760.62 1014.00 L757.78 1015.00 L754.93 1015.98 L752.08 1016.96 L749.22 1017.93 L746.37 1018.89 L743.50 1019.85 L740.64 1020.79 L737.77 1021.73 L734.90 1022.65 L732.03 1023.58 L729.16 1024.49 L726.28 1025.40 L723.40 1026.29 L720.52 1027.19 L717.64 1028.07 L714.75 1028.95 L711.86 1029.82 L708.97 1030.69 L706.08 1031.55 L703.18 1032.40 L700.29 1033.25 L697.39 1034.09 L694.49 1034.93 L691.59 1035.76 L688.69 1036.58 L685.79 1037.40 L682.88 1038.22 L679.98 1039.02 L677.07 1039.82 L674.16 1040.62 L671.25 1041.41 L668.34 1042.19 L665.42 1042.97 L662.51 1043.75 L659.59 1044.51 L656.67 1045.28 L653.75 1046.03 L650.83 1046.78 L647.91 1047.53 L644.99 1048.27 L642.06 1049.00 L639.13 1049.73 L636.21 1050.46 L633.28 1051.17 L630.35 1051.89 L627.41 1052.59 L624.48 1053.30 L621.55 1053.99 L618.61 1054.68 L615.67 1055.37 L612.73 1056.05 L609.79 1056.73 L606.85 1057.40 L603.91 1058.06 L600.97 1058.72 L598.02 1059.37 L595.08 1060.02 L592.13 1060.67 L589.18 1061.31 L586.23 1061.94 L583.28 1062.57 L580.33 1063.19 L577.37 1063.81 L574.42 1064.43 L571.46 1065.04 L568.51 1065.64 L565.55 1066.24 L562.59 1066.83 L559.63 1067.42 L556.67 1068.00 L553.71 1068.58 L550.74 1069.16 L547.78 1069.73 L544.81 1070.29 L541.85 1070.85 L538.88 1071.41 L535.91 1071.96 L532.94 1072.50 L529.97 1073.04 L527.00 1073.58 L524.03 1074.11 L521.05 1074.64 L518.08 1075.16 L515.10 1075.68 L512.13 1076.19 L509.15 1076.70 L506.17 1077.20 L503.19 1077.70 L500.21 1078.20 L497.23 1078.69 L494.25 1079.17 L491.27 1079.65 L488.28 1080.13 L485.30 1080.60 L482.31 1081.07 L479.33 1081.53 L476.34 1081.99 L473.35 1082.45 L470.37 1082.90 L467.38 1083.34 L464.39 1083.78 L461.40 1084.22 L458.40 1084.66 L455.41 1085.08 L452.42 1085.51 L449.43 1085.93 L446.43 1086.35 L443.44 1086.76 L440.44 1087.17 L437.45 1087.57 L434.45 1087.97 L431.45 1088.37 L428.45 1088.76 L425.45 1089.15 L422.46 1089.53 L419.46 1089.91 L416.45 1090.29 L413.45 1090.66 L410.45 1091.03 L407.45 1091.39 L404.45 1091.75 L401.44 1092.11 L398.44 1092.46 L395.44 1092.81 L392.43 1093.15 L389.43 1093.50 L386.42 1093.83 L383.41 1094.17 L380.41 1094.50 L377.40 1094.82 L374.39 1095.15 L371.38 1095.46 L368.37 1095.78 L365.37 1096.09 L362.36 1096.40 L359.35 1096.70 L356.34 1097.00 L353.33 1097.30 L350.31 1097.60 L347.30 1097.89 L344.29 1098.17 L341.28 1098.46 L338.27 1098.74 L335.26 1099.01 L332.24 1099.28 L329.23 1099.55 L326.22 1099.82 L323.20 1100.08 L320.19 1100.34 L317.17 1100.60 L314.16 1100.85 L311.15 1101.10 L308.13 1101.35 L305.12 1101.59 L302.10 1101.83 L299.09 1102.07 L296.07 1102.30 L293.05 1102.53 L290.04 1102.76 L287.02 1102.98 L284.01 1103.21 L280.99 1103.42 L277.97 1103.64 L274.96 1103.85 L271.94 1104.06 L268.92 1104.27 L265.91 1104.47 L262.89 1104.67 L259.87 1104.87 L256.86 1105.06 L253.84 1105.25 L250.82 1105.44 L247.81 1105.63 L244.79 1105.81 L241.77 1105.99 L238.76 1106.17 L235.74 1106.34 L232.72 1106.51 L229.71 1106.68 L226.69 1106.85 L223.68 1107.01 L220.66 1107.17 L217.64 1107.33 L214.63 1107.49 L211.61 1107.64 L208.60 1107.79 L205.58 1107.94 L202.56 1108.09 L199.55 1108.23 L196.53 1108.37 L193.52 1108.51 L190.50 1108.64 L187.49 1108.78 L184.48 1108.91 L181.46 1109.04 L178.45 1109.16 L175.43 1109.28 L172.42 1109.41 L169.41 1109.52 L166.40 1109.64 L163.38 1109.75 L160.37 1109.87 L157.36 1109.98 L154.35 1110.08 L151.34 1110.19 L148.33 1110.29 L145.32 1110.39 L142.31 1110.49 L139.30 1110.59 L136.29 1110.68 L133.28 1110.78 L130.27 1110.87 L127.26 1110.95 L124.26 1111.04 L121.25 1111.13 L118.24 1111.21 L115.24 1111.29 L112.23 1111.37 L109.22 1111.44 L106.22 1111.52 L103.22 1111.59 L100.21 1111.66 L97.21 1111.73 L94.21 1111.80 L91.20 1111.86 L88.20 1111.93 L85.20 1111.99 L82.20 1112.05 L79.20 1112.11 L76.20 1112.16 L73.21 1112.22 L70.21 1112.27 L67.21 1112.32Z M278.46 1116.39 L281.47 1116.31 L284.49 1116.23 L287.50 1116.15 L290.52 1116.07 L293.53 1115.99 L296.55 1115.90 L299.56 1115.81 L302.58 1115.72 L305.59 1115.62 L308.61 1115.52 L311.62 1115.42 L314.64 1115.32 L317.66 1115.22 L320.67 1115.11 L323.69 1115.00 L326.70 1114.89 L329.72 1114.77 L332.74 1114.66 L335.75 1114.54 L338.77 1114.41 L341.79 1114.29 L344.80 1114.16 L347.82 1114.03 L350.84 1113.90 L353.86 1113.76 L356.87 1113.62 L359.89 1113.48 L362.91 1113.34 L365.93 1113.19 L368.94 1113.04 L371.96 1112.89 L374.98 1112.73 L377.99 1112.58 L381.01 1112.41 L384.03 1112.25 L387.05 1112.08 L390.06 1111.91 L393.08 1111.74 L396.10 1111.57 L399.12 1111.39 L402.13 1111.21 L405.15 1111.02 L408.17 1110.84 L411.18 1110.65 L414.20 1110.45 L417.22 1110.26 L420.23 1110.06 L423.25 1109.86 L426.26 1109.65 L429.28 1109.44 L432.30 1109.23 L435.31 1109.02 L438.33 1108.80 L441.34 1108.58 L444.36 1108.35 L447.37 1108.12 L450.39 1107.89 L453.40 1107.66 L456.41 1107.42 L459.43 1107.18 L462.44 1106.94 L465.46 1106.69 L468.47 1106.44 L471.48 1106.19 L474.49 1105.93 L477.51 1105.67 L480.52 1105.41 L483.53 1105.14 L486.54 1104.87 L489.55 1104.60 L492.56 1104.32 L495.57 1104.04 L498.59 1103.76 L501.60 1103.47 L504.60 1103.18 L507.61 1102.88 L510.62 1102.59 L513.63 1102.29 L516.64 1101.98 L519.65 1101.67 L522.65 1101.36 L525.66 1101.04 L528.67 1100.72 L531.67 1100.40 L534.68 1100.07 L537.68 1099.74 L540.69 1099.41 L543.69 1099.07 L546.70 1098.73 L549.70 1098.39 L552.70 1098.04 L555.71 1097.68 L558.71 1097.33 L561.71 1096.97 L564.71 1096.60 L567.71 1096.24 L570.71 1095.86 L573.71 1095.49 L576.71 1095.11 L579.71 1094.73 L582.70 1094.34 L585.70 1093.95 L588.70 1093.55 L591.69 1093.15 L594.69 1092.75 L597.68 1092.34 L600.68 1091.93 L603.67 1091.52 L606.66 1091.10 L609.66 1090.68 L612.65 1090.25 L615.64 1089.82 L618.63 1089.38 L621.62 1088.94 L624.61 1088.50 L627.60 1088.05 L630.58 1087.60 L633.57 1087.15 L636.56 1086.69 L639.54 1086.22 L642.53 1085.75 L645.51 1085.28 L648.50 1084.80 L651.48 1084.32 L654.46 1083.84 L657.44 1083.35 L660.42 1082.85 L663.40 1082.36 L666.38 1081.85 L669.36 1081.35 L672.34 1080.83 L675.31 1080.32 L678.29 1079.80 L681.26 1079.27 L684.24 1078.74 L687.21 1078.21 L690.18 1077.67 L693.15 1077.13 L696.12 1076.58 L699.09 1076.03 L702.06 1075.48 L705.03 1074.92 L708.00 1074.35 L710.96 1073.78 L713.93 1073.21 L716.89 1072.63 L719.86 1072.04 L722.82 1071.46 L725.78 1070.86 L728.74 1070.26 L731.70 1069.66 L734.66 1069.06 L737.62 1068.44 L740.57 1067.83 L743.53 1067.21 L746.48 1066.58 L749.44 1065.95 L752.39 1065.31 L755.34 1064.67 L758.29 1064.03 L761.24 1063.38 L764.19 1062.72 L767.14 1062.06 L770.08 1061.40 L773.03 1060.73 L775.97 1060.06 L778.92 1059.38 L781.86 1058.69 L784.80 1058.00 L787.74 1057.31 L790.68 1056.61 L793.62 1055.90 L796.55 1055.19 L799.49 1054.48 L802.42 1053.76 L805.36 1053.04 L808.29 1052.31 L811.22 1051.57 L814.15 1050.83 L817.08 1050.09 L820.00 1049.34 L822.93 1048.58 L825.85 1047.82 L828.78 1047.05 L831.70 1046.28 L834.62 1045.51 L837.54 1044.72 L840.46 1043.94 L843.38 1043.15 L846.29 1042.35 L849.21 1041.55 L852.12 1040.74 L855.03 1039.92 L857.94 1039.10 L860.85 1038.28 L863.76 1037.45 L866.67 1036.62 L869.57 1035.78 L872.48 1034.93 L875.38 1034.08 L878.28 1033.22 L881.18 1032.36 L884.08 1031.49 L886.98 1030.62 L889.87 1029.74 L892.77 1028.85 L895.66 1027.96 L898.55 1027.07 L901.44 1026.17 L904.33 1025.26 L903.72 1023.31 L900.84 1024.22 L897.95 1025.12 L895.06 1026.02 L892.17 1026.91 L889.28 1027.79 L886.39 1028.67 L883.50 1029.54 L880.60 1030.41 L877.70 1031.27 L874.81 1032.13 L871.91 1032.98 L869.01 1033.82 L866.11 1034.66 L863.20 1035.50 L860.30 1036.33 L857.39 1037.15 L854.49 1037.97 L851.58 1038.78 L848.67 1039.59 L845.76 1040.39 L842.84 1041.19 L839.93 1041.98 L837.02 1042.77 L834.10 1043.55 L831.18 1044.33 L828.26 1045.10 L825.34 1045.86 L822.42 1046.62 L819.50 1047.38 L816.58 1048.13 L813.65 1048.88 L810.73 1049.61 L807.80 1050.35 L804.87 1051.08 L801.94 1051.80 L799.01 1052.52 L796.08 1053.24 L793.15 1053.95 L790.21 1054.65 L787.28 1055.35 L784.34 1056.04 L781.40 1056.73 L778.46 1057.42 L775.52 1058.10 L772.58 1058.77 L769.64 1059.44 L766.70 1060.11 L763.75 1060.77 L760.81 1061.42 L757.86 1062.07 L754.92 1062.72 L751.97 1063.36 L749.02 1063.99 L746.07 1064.62 L743.12 1065.25 L740.16 1065.87 L737.21 1066.49 L734.26 1067.10 L731.30 1067.70 L728.34 1068.31 L725.39 1068.90 L722.43 1069.50 L719.47 1070.09 L716.51 1070.67 L713.55 1071.25 L710.59 1071.82 L707.62 1072.39 L704.66 1072.96 L701.69 1073.52 L698.73 1074.07 L695.76 1074.63 L692.79 1075.17 L689.83 1075.72 L686.86 1076.25 L683.89 1076.79 L680.92 1077.32 L677.94 1077.84 L674.97 1078.36 L672.00 1078.88 L669.02 1079.39 L666.05 1079.90 L663.07 1080.40 L660.10 1080.90 L657.12 1081.39 L654.14 1081.88 L651.16 1082.37 L648.18 1082.85 L645.20 1083.33 L642.22 1083.80 L639.24 1084.27 L636.26 1084.73 L633.27 1085.19 L630.29 1085.65 L627.30 1086.10 L624.32 1086.55 L621.33 1086.99 L618.34 1087.43 L615.36 1087.87 L612.37 1088.30 L609.38 1088.73 L606.39 1089.15 L603.40 1089.57 L600.41 1089.98 L597.42 1090.39 L594.43 1090.80 L591.43 1091.20 L588.44 1091.60 L585.45 1092.00 L582.45 1092.39 L579.46 1092.78 L576.46 1093.16 L573.46 1093.54 L570.47 1093.92 L567.47 1094.29 L564.47 1094.66 L561.47 1095.02 L558.48 1095.38 L555.48 1095.74 L552.48 1096.09 L549.48 1096.44 L546.47 1096.78 L543.47 1097.13 L540.47 1097.46 L537.47 1097.80 L534.47 1098.13 L531.46 1098.46 L528.46 1098.78 L525.46 1099.10 L522.45 1099.42 L519.45 1099.73 L516.44 1100.04 L513.44 1100.34 L510.43 1100.64 L507.42 1100.94 L504.42 1101.24 L501.41 1101.53 L498.40 1101.82 L495.39 1102.10 L492.38 1102.38 L489.38 1102.66 L486.37 1102.93 L483.36 1103.20 L480.35 1103.47 L477.34 1103.73 L474.33 1103.99 L471.32 1104.25 L468.31 1104.51 L465.30 1104.76 L462.28 1105.00 L459.27 1105.25 L456.26 1105.49 L453.25 1105.73 L450.24 1105.96 L447.22 1106.19 L444.21 1106.42 L441.20 1106.64 L438.19 1106.86 L435.17 1107.08 L432.16 1107.30 L429.14 1107.51 L426.13 1107.72 L423.12 1107.92 L420.10 1108.13 L417.09 1108.33 L414.07 1108.52 L411.06 1108.72 L408.04 1108.91 L405.03 1109.09 L402.02 1109.28 L399.00 1109.46 L395.98 1109.64 L392.97 1109.81 L389.95 1109.99 L386.94 1110.16 L383.92 1110.32 L380.91 1110.49 L377.89 1110.65 L374.88 1110.81 L371.86 1110.96 L368.85 1111.12 L365.83 1111.27 L362.82 1111.41 L359.80 1111.56 L356.78 1111.70 L353.77 1111.84 L350.75 1111.98 L347.74 1112.11 L344.72 1112.24 L341.71 1112.37 L338.69 1112.49 L335.68 1112.62 L332.66 1112.74 L329.65 1112.85 L326.63 1112.97 L323.62 1113.08 L320.60 1113.19 L317.59 1113.30 L314.57 1113.41 L311.56 1113.51 L308.54 1113.61 L305.53 1113.71 L302.52 1113.80 L299.50 1113.89 L296.49 1113.98 L293.48 1114.07 L290.46 1114.16 L287.45 1114.24 L284.44 1114.32 L281.42 1114.40 L278.41 1114.47Z" fill="#000" shape-rendering="crispEdges"/>
<text x="56.8" y="99.5" text-anchor="end" font-size="31" font-family="Liberation Serif, serif" fill="#000">30.0</text>
<text x="57.0" y="248.0" text-anchor="end" font-size="31" font-family="Liberation Serif, serif" fill="#000">20.0</text>
<text x="56.8" y="366.0" text-anchor="end" font-size="31" font-family="Liberation Serif, serif" fill="#000">10.0</text>
<text x="56.8" y="482.0" text-anchor="end" font-size="31" font-family="Liberation Serif, serif" fill="#000">5.0</text>
<text x="56.8" y="635.2" text-anchor="end" font-size="31" font-family="Liberation Serif, serif" fill="#000">2.0</text>
<text x="57.2" y="749.0" text-anchor="end" font-size="31" font-family="Liberation Serif, serif" fill="#000">1.0</text>
<text x="57.2" y="875.0" text-anchor="end" font-size="31" font-family="Liberation Serif, serif" fill="#000">0.5</text>
<text x="56.0" y="1021.0" text-anchor="end" font-size="31" font-family="Liberation Serif, serif" fill="#000">0.2</text>
<text x="56.5" y="1138.2" text-anchor="end" font-size="31" font-family="Liberation Serif, serif" fill="#000">0.1</text>
<text x="63.8" y="1283" text-anchor="middle" font-size="31" font-family="Liberation Serif, serif" fill="#000">0.005</text>
<text x="155.9" y="1283" text-anchor="middle" font-size="31" font-family="Liberation Serif, serif" fill="#000">0.010</text>
<text x="249.0" y="1283" text-anchor="middle" font-size="31" font-family="Liberation Serif, serif" fill="#000">0.020</text>
<text x="341.0" y="1283" text-anchor="middle" font-size="31" font-family="Liberation Serif, serif" fill="#000">0.050</text>
<text x="432.7" y="1283" text-anchor="middle" font-size="31" font-family="Liberation Serif, serif" fill="#000">0.100</text>
<text x="526.2" y="1283" text-anchor="middle" font-size="31" font-family="Liberation Serif, serif" fill="#000">0.200</text>
<text x="617.8" y="1283" text-anchor="middle" font-size="31" font-family="Liberation Serif, serif" fill="#000">0.500</text>
<text x="710.2" y="1283" text-anchor="middle" font-size="31" font-family="Liberation Serif, serif" fill="#000">1.000</text>
<text x="800.0" y="1283" text-anchor="middle" font-size="31" font-family="Liberation Serif, serif" fill="#000">2.000</text>
<text x="889.7" y="1283" text-anchor="middle" font-size="31" font-family="Liberation Serif, serif" fill="#000">5.000</text>
<text x="910" y="287.2" font-size="31" font-family="Liberation Serif, serif" fill="#000">0.6</text>
<text x="14" y="29.5" font-size="30" font-style="italic" font-family="Liberation Serif, serif" fill="#000">a</text>
<text x="30" y="39.8" font-size="18" font-family="Liberation Serif, serif" fill="#000">ISO</text>
<text x="935" y="1279" font-size="31" font-family="Liberation Serif, serif" fill="#000">e</text>
<text x="949.5" y="1288.6" font-size="19" font-family="Liberation Serif, serif" fill="#000">c</text>
<text x="957" y="1279.6" font-size="31" font-style="italic" textLength="22" lengthAdjust="spacingAndGlyphs" font-family="Liberation Serif, serif" fill="#000">C</text>
<text x="978.5" y="1289" font-size="19" font-family="Liberation Serif, serif" fill="#000">u</text>
<text x="990" y="1279" font-size="31" font-family="Liberation Serif, serif" fill="#000">/</text>
<text x="999" y="1279" font-size="31" font-style="italic" textLength="21" lengthAdjust="spacingAndGlyphs" font-family="Liberation Serif, serif" fill="#000">P</text>
<text x="1018.5" y="1288.6" font-size="19" font-family="Liberation Serif, serif" fill="#000">r</text>
</svg>
</body></html>
